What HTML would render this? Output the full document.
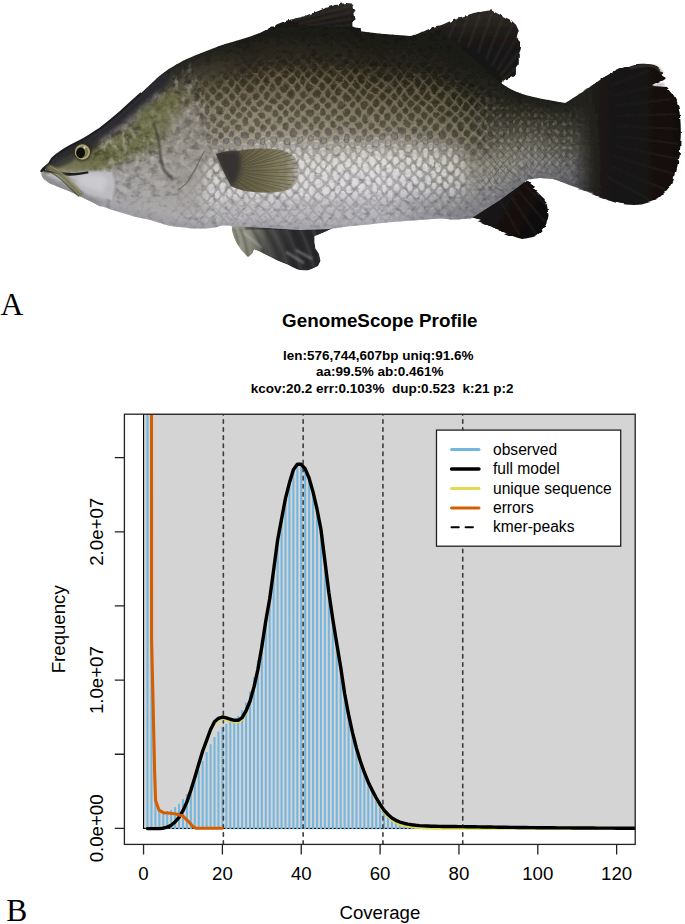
<!DOCTYPE html>
<html><head><meta charset="utf-8"><title>Figure</title>
<style>
html,body{margin:0;padding:0;background:#fff;}
body{width:685px;height:924px;overflow:hidden;position:relative;}
svg{position:absolute;left:0;top:0;}
text{font-family:"Liberation Sans", sans-serif;fill:#000;}
.serif{font-family:"Liberation Serif", serif;}
</style></head>
<body>
<svg width="685" height="924" viewBox="0 0 685 924">
<defs><clipPath id="plotclip"><rect x="124.4" y="414.2" width="510.80" height="430.20"/></clipPath></defs>
<filter id="soft" x="-2%" y="-2%" width="104%" height="104%"><feGaussianBlur stdDeviation="0.35"/></filter>
<g id="fish" filter="url(#soft)">
<defs>
<linearGradient id="g0" x1="0" y1="168.9" x2="0" y2="174.9" gradientUnits="userSpaceOnUse"><stop offset="0.00" stop-color="#2a2a2a"/><stop offset="0.08" stop-color="#353531"/><stop offset="0.17" stop-color="#46463b"/><stop offset="0.25" stop-color="#5d5b48"/><stop offset="0.33" stop-color="#717057"/><stop offset="0.42" stop-color="#838269"/><stop offset="0.50" stop-color="#a1a190"/><stop offset="0.58" stop-color="#babab4"/><stop offset="0.67" stop-color="#bfbfbe"/><stop offset="0.75" stop-color="#c4c4c8"/><stop offset="0.83" stop-color="#bfbfc3"/><stop offset="0.92" stop-color="#b9b9bd"/><stop offset="1.00" stop-color="#b4b4b8"/></linearGradient>
<linearGradient id="g1" x1="0" y1="165.3" x2="0" y2="181.3" gradientUnits="userSpaceOnUse"><stop offset="0.00" stop-color="#2a2a2a"/><stop offset="0.08" stop-color="#363632"/><stop offset="0.17" stop-color="#48473c"/><stop offset="0.25" stop-color="#5d5c48"/><stop offset="0.33" stop-color="#717057"/><stop offset="0.42" stop-color="#838268"/><stop offset="0.50" stop-color="#a0a08f"/><stop offset="0.58" stop-color="#b9b9b3"/><stop offset="0.67" stop-color="#bfbfbe"/><stop offset="0.75" stop-color="#c3c3c7"/><stop offset="0.83" stop-color="#bebec2"/><stop offset="0.92" stop-color="#b9b9bd"/><stop offset="1.00" stop-color="#b4b4b8"/></linearGradient>
<linearGradient id="g2" x1="0" y1="159.2" x2="0" y2="184.7" gradientUnits="userSpaceOnUse"><stop offset="0.00" stop-color="#292929"/><stop offset="0.08" stop-color="#393835"/><stop offset="0.17" stop-color="#4b4a3e"/><stop offset="0.25" stop-color="#5f5e48"/><stop offset="0.33" stop-color="#717056"/><stop offset="0.42" stop-color="#818167"/><stop offset="0.50" stop-color="#9d9d8c"/><stop offset="0.58" stop-color="#b5b5af"/><stop offset="0.67" stop-color="#bebebe"/><stop offset="0.75" stop-color="#c2c2c6"/><stop offset="0.83" stop-color="#bdbdc1"/><stop offset="0.92" stop-color="#b8b8bc"/><stop offset="1.00" stop-color="#b2b2b6"/></linearGradient>
<linearGradient id="g3" x1="0" y1="153.4" x2="0" y2="187.1" gradientUnits="userSpaceOnUse"><stop offset="0.00" stop-color="#292929"/><stop offset="0.08" stop-color="#3b3b38"/><stop offset="0.17" stop-color="#4e4e40"/><stop offset="0.25" stop-color="#616049"/><stop offset="0.33" stop-color="#717055"/><stop offset="0.42" stop-color="#808065"/><stop offset="0.50" stop-color="#9a9a88"/><stop offset="0.58" stop-color="#b2b2ab"/><stop offset="0.67" stop-color="#bdbdbd"/><stop offset="0.75" stop-color="#c0c0c4"/><stop offset="0.83" stop-color="#bcbcc0"/><stop offset="0.92" stop-color="#b7b7bb"/><stop offset="1.00" stop-color="#b1b1b5"/></linearGradient>
<linearGradient id="g4" x1="0" y1="149.7" x2="0" y2="189.5" gradientUnits="userSpaceOnUse"><stop offset="0.00" stop-color="#292929"/><stop offset="0.08" stop-color="#3e3d3c"/><stop offset="0.17" stop-color="#525143"/><stop offset="0.25" stop-color="#626249"/><stop offset="0.33" stop-color="#717055"/><stop offset="0.42" stop-color="#7f7f64"/><stop offset="0.50" stop-color="#979785"/><stop offset="0.58" stop-color="#afafa8"/><stop offset="0.67" stop-color="#bcbcbd"/><stop offset="0.75" stop-color="#bfbfc3"/><stop offset="0.83" stop-color="#bababe"/><stop offset="0.92" stop-color="#b6b6ba"/><stop offset="1.00" stop-color="#b0b0b4"/></linearGradient>
<linearGradient id="g5" x1="0" y1="146.2" x2="0" y2="192.1" gradientUnits="userSpaceOnUse"><stop offset="0.00" stop-color="#282828"/><stop offset="0.08" stop-color="#41403f"/><stop offset="0.17" stop-color="#555445"/><stop offset="0.25" stop-color="#646349"/><stop offset="0.33" stop-color="#717154"/><stop offset="0.42" stop-color="#7e7e62"/><stop offset="0.50" stop-color="#949482"/><stop offset="0.58" stop-color="#ababa4"/><stop offset="0.67" stop-color="#bcbcbd"/><stop offset="0.75" stop-color="#bdbdc1"/><stop offset="0.83" stop-color="#b9b9bd"/><stop offset="0.92" stop-color="#b5b5b9"/><stop offset="1.00" stop-color="#aeaeb2"/></linearGradient>
<linearGradient id="g6" x1="0" y1="142.8" x2="0" y2="194.9" gradientUnits="userSpaceOnUse"><stop offset="0.00" stop-color="#282828"/><stop offset="0.08" stop-color="#444242"/><stop offset="0.17" stop-color="#585747"/><stop offset="0.25" stop-color="#666549"/><stop offset="0.33" stop-color="#727153"/><stop offset="0.42" stop-color="#7d7d61"/><stop offset="0.50" stop-color="#91917f"/><stop offset="0.58" stop-color="#a8a8a0"/><stop offset="0.67" stop-color="#bbbbbd"/><stop offset="0.75" stop-color="#bbbbbf"/><stop offset="0.83" stop-color="#b8b8bc"/><stop offset="0.92" stop-color="#b4b4b8"/><stop offset="1.00" stop-color="#adadb1"/></linearGradient>
<linearGradient id="g7" x1="0" y1="139.2" x2="0" y2="197.7" gradientUnits="userSpaceOnUse"><stop offset="0.00" stop-color="#272727"/><stop offset="0.08" stop-color="#464445"/><stop offset="0.17" stop-color="#5c5a49"/><stop offset="0.25" stop-color="#686749"/><stop offset="0.33" stop-color="#727152"/><stop offset="0.42" stop-color="#7c7c5f"/><stop offset="0.50" stop-color="#8e8e7b"/><stop offset="0.58" stop-color="#a4a49d"/><stop offset="0.67" stop-color="#bababc"/><stop offset="0.75" stop-color="#bababe"/><stop offset="0.83" stop-color="#b6b6ba"/><stop offset="0.92" stop-color="#b3b3b7"/><stop offset="1.00" stop-color="#acacb0"/></linearGradient>
<linearGradient id="g8" x1="0" y1="135.4" x2="0" y2="200.7" gradientUnits="userSpaceOnUse"><stop offset="0.00" stop-color="#272727"/><stop offset="0.08" stop-color="#494748"/><stop offset="0.17" stop-color="#5f5e4b"/><stop offset="0.25" stop-color="#696949"/><stop offset="0.33" stop-color="#727152"/><stop offset="0.42" stop-color="#7b7b5e"/><stop offset="0.50" stop-color="#8b8b78"/><stop offset="0.58" stop-color="#a1a199"/><stop offset="0.67" stop-color="#b9b9bc"/><stop offset="0.75" stop-color="#b8b8bc"/><stop offset="0.83" stop-color="#b5b5b9"/><stop offset="0.92" stop-color="#b2b2b6"/><stop offset="1.00" stop-color="#aaaaae"/></linearGradient>
<linearGradient id="g9" x1="0" y1="131.7" x2="0" y2="203.7" gradientUnits="userSpaceOnUse"><stop offset="0.00" stop-color="#262626"/><stop offset="0.08" stop-color="#4c494b"/><stop offset="0.17" stop-color="#62614e"/><stop offset="0.25" stop-color="#6b6b49"/><stop offset="0.33" stop-color="#727251"/><stop offset="0.42" stop-color="#7a7a5c"/><stop offset="0.50" stop-color="#888875"/><stop offset="0.58" stop-color="#9e9e95"/><stop offset="0.67" stop-color="#b8b8bc"/><stop offset="0.75" stop-color="#b7b7bb"/><stop offset="0.83" stop-color="#b4b4b8"/><stop offset="0.92" stop-color="#b1b1b5"/><stop offset="1.00" stop-color="#a9a9ad"/></linearGradient>
<linearGradient id="g10" x1="0" y1="127.7" x2="0" y2="206.5" gradientUnits="userSpaceOnUse"><stop offset="0.00" stop-color="#262626"/><stop offset="0.08" stop-color="#4e4b4e"/><stop offset="0.17" stop-color="#65644f"/><stop offset="0.25" stop-color="#6d6d4a"/><stop offset="0.33" stop-color="#727251"/><stop offset="0.42" stop-color="#79795b"/><stop offset="0.50" stop-color="#868672"/><stop offset="0.58" stop-color="#9b9b92"/><stop offset="0.67" stop-color="#b7b7bb"/><stop offset="0.75" stop-color="#b5b5b9"/><stop offset="0.83" stop-color="#b3b3b7"/><stop offset="0.92" stop-color="#b0b0b4"/><stop offset="1.00" stop-color="#a8a8ac"/></linearGradient>
<linearGradient id="g11" x1="0" y1="122.8" x2="0" y2="208.3" gradientUnits="userSpaceOnUse"><stop offset="0.00" stop-color="#262625"/><stop offset="0.08" stop-color="#4d4a4c"/><stop offset="0.17" stop-color="#66644f"/><stop offset="0.25" stop-color="#6e6e4c"/><stop offset="0.33" stop-color="#747455"/><stop offset="0.42" stop-color="#7b7a5f"/><stop offset="0.50" stop-color="#878774"/><stop offset="0.58" stop-color="#9b9a92"/><stop offset="0.67" stop-color="#b6b5b9"/><stop offset="0.75" stop-color="#b4b4b7"/><stop offset="0.83" stop-color="#b2b2b6"/><stop offset="0.92" stop-color="#b1b1b5"/><stop offset="1.00" stop-color="#a8a8ac"/></linearGradient>
<linearGradient id="g12" x1="0" y1="117.9" x2="0" y2="210.2" gradientUnits="userSpaceOnUse"><stop offset="0.00" stop-color="#262625"/><stop offset="0.08" stop-color="#4c4949"/><stop offset="0.17" stop-color="#66644f"/><stop offset="0.25" stop-color="#6f6f4e"/><stop offset="0.33" stop-color="#767558"/><stop offset="0.42" stop-color="#7d7c62"/><stop offset="0.50" stop-color="#898877"/><stop offset="0.58" stop-color="#9b9a92"/><stop offset="0.67" stop-color="#b4b3b6"/><stop offset="0.75" stop-color="#b3b2b5"/><stop offset="0.83" stop-color="#b2b2b5"/><stop offset="0.92" stop-color="#b1b1b5"/><stop offset="1.00" stop-color="#a8a8ac"/></linearGradient>
<linearGradient id="g13" x1="0" y1="113.0" x2="0" y2="212.0" gradientUnits="userSpaceOnUse"><stop offset="0.00" stop-color="#252524"/><stop offset="0.08" stop-color="#4b4847"/><stop offset="0.17" stop-color="#66644f"/><stop offset="0.25" stop-color="#716f50"/><stop offset="0.33" stop-color="#78775c"/><stop offset="0.42" stop-color="#7f7e66"/><stop offset="0.50" stop-color="#8a8979"/><stop offset="0.58" stop-color="#9b9a92"/><stop offset="0.67" stop-color="#b2b1b3"/><stop offset="0.75" stop-color="#b2b1b3"/><stop offset="0.83" stop-color="#b2b1b5"/><stop offset="0.92" stop-color="#b2b2b6"/><stop offset="1.00" stop-color="#a8a8ac"/></linearGradient>
<linearGradient id="g14" x1="0" y1="107.7" x2="0" y2="213.7" gradientUnits="userSpaceOnUse"><stop offset="0.00" stop-color="#252524"/><stop offset="0.08" stop-color="#4a4745"/><stop offset="0.17" stop-color="#67644f"/><stop offset="0.25" stop-color="#727052"/><stop offset="0.33" stop-color="#7a7860"/><stop offset="0.42" stop-color="#817f6a"/><stop offset="0.50" stop-color="#8b8a7b"/><stop offset="0.58" stop-color="#9b9a92"/><stop offset="0.67" stop-color="#b0afb0"/><stop offset="0.75" stop-color="#b1b0b2"/><stop offset="0.83" stop-color="#b2b1b4"/><stop offset="0.92" stop-color="#b3b2b6"/><stop offset="1.00" stop-color="#a8a8ac"/></linearGradient>
<linearGradient id="g15" x1="0" y1="102.3" x2="0" y2="215.2" gradientUnits="userSpaceOnUse"><stop offset="0.00" stop-color="#252523"/><stop offset="0.08" stop-color="#494643"/><stop offset="0.17" stop-color="#67654e"/><stop offset="0.25" stop-color="#737154"/><stop offset="0.33" stop-color="#7b7a63"/><stop offset="0.42" stop-color="#82816d"/><stop offset="0.50" stop-color="#8c8b7d"/><stop offset="0.58" stop-color="#9b9992"/><stop offset="0.67" stop-color="#aeadad"/><stop offset="0.75" stop-color="#b0afb0"/><stop offset="0.83" stop-color="#b1b1b3"/><stop offset="0.92" stop-color="#b3b3b7"/><stop offset="1.00" stop-color="#a8a8ac"/></linearGradient>
<linearGradient id="g16" x1="0" y1="96.9" x2="0" y2="216.6" gradientUnits="userSpaceOnUse"><stop offset="0.00" stop-color="#252523"/><stop offset="0.08" stop-color="#484541"/><stop offset="0.17" stop-color="#68654e"/><stop offset="0.25" stop-color="#747256"/><stop offset="0.33" stop-color="#7d7b67"/><stop offset="0.42" stop-color="#848271"/><stop offset="0.50" stop-color="#8e8c7f"/><stop offset="0.58" stop-color="#9b9992"/><stop offset="0.67" stop-color="#acabab"/><stop offset="0.75" stop-color="#aeadae"/><stop offset="0.83" stop-color="#b1b0b2"/><stop offset="0.92" stop-color="#b4b4b7"/><stop offset="1.00" stop-color="#a8a8ac"/></linearGradient>
<linearGradient id="g17" x1="0" y1="91.5" x2="0" y2="218.1" gradientUnits="userSpaceOnUse"><stop offset="0.00" stop-color="#252522"/><stop offset="0.08" stop-color="#47443f"/><stop offset="0.17" stop-color="#68654e"/><stop offset="0.25" stop-color="#767358"/><stop offset="0.33" stop-color="#7f7d6a"/><stop offset="0.42" stop-color="#868474"/><stop offset="0.50" stop-color="#8f8d81"/><stop offset="0.58" stop-color="#9b9992"/><stop offset="0.67" stop-color="#aaa9a8"/><stop offset="0.75" stop-color="#adacac"/><stop offset="0.83" stop-color="#b1b0b2"/><stop offset="0.92" stop-color="#b4b4b8"/><stop offset="1.00" stop-color="#a8a8ac"/></linearGradient>
<linearGradient id="g18" x1="0" y1="86.1" x2="0" y2="219.7" gradientUnits="userSpaceOnUse"><stop offset="0.00" stop-color="#252522"/><stop offset="0.08" stop-color="#46433d"/><stop offset="0.17" stop-color="#68654e"/><stop offset="0.25" stop-color="#77745a"/><stop offset="0.33" stop-color="#817e6e"/><stop offset="0.42" stop-color="#888578"/><stop offset="0.50" stop-color="#908d83"/><stop offset="0.58" stop-color="#9b9992"/><stop offset="0.67" stop-color="#a8a6a5"/><stop offset="0.75" stop-color="#acabaa"/><stop offset="0.83" stop-color="#b0b0b1"/><stop offset="0.92" stop-color="#b5b5b8"/><stop offset="1.00" stop-color="#a8a8ac"/></linearGradient>
<linearGradient id="g19" x1="0" y1="80.6" x2="0" y2="221.5" gradientUnits="userSpaceOnUse"><stop offset="0.00" stop-color="#242421"/><stop offset="0.08" stop-color="#45423b"/><stop offset="0.17" stop-color="#69654e"/><stop offset="0.25" stop-color="#78755c"/><stop offset="0.33" stop-color="#838072"/><stop offset="0.42" stop-color="#8a877c"/><stop offset="0.50" stop-color="#918e85"/><stop offset="0.58" stop-color="#9b9892"/><stop offset="0.67" stop-color="#a6a4a2"/><stop offset="0.75" stop-color="#aba9a8"/><stop offset="0.83" stop-color="#b0afb0"/><stop offset="0.92" stop-color="#b5b5b9"/><stop offset="1.00" stop-color="#a8a8ac"/></linearGradient>
<linearGradient id="g20" x1="0" y1="75.2" x2="0" y2="223.4" gradientUnits="userSpaceOnUse"><stop offset="0.00" stop-color="#242421"/><stop offset="0.08" stop-color="#444139"/><stop offset="0.17" stop-color="#69654e"/><stop offset="0.25" stop-color="#79765e"/><stop offset="0.33" stop-color="#858175"/><stop offset="0.42" stop-color="#8c887f"/><stop offset="0.50" stop-color="#938f87"/><stop offset="0.58" stop-color="#9b9893"/><stop offset="0.67" stop-color="#a5a29f"/><stop offset="0.75" stop-color="#aaa8a7"/><stop offset="0.83" stop-color="#b0afb0"/><stop offset="0.92" stop-color="#b6b6b9"/><stop offset="1.00" stop-color="#a8a8ac"/></linearGradient>
<linearGradient id="g21" x1="0" y1="70.5" x2="0" y2="225.2" gradientUnits="userSpaceOnUse"><stop offset="0.00" stop-color="#242420"/><stop offset="0.08" stop-color="#434036"/><stop offset="0.17" stop-color="#69654d"/><stop offset="0.25" stop-color="#7b7760"/><stop offset="0.33" stop-color="#878379"/><stop offset="0.42" stop-color="#8e8a83"/><stop offset="0.50" stop-color="#94908a"/><stop offset="0.58" stop-color="#9b9893"/><stop offset="0.67" stop-color="#a3a09d"/><stop offset="0.75" stop-color="#a9a7a5"/><stop offset="0.83" stop-color="#b0afaf"/><stop offset="0.92" stop-color="#b7b6ba"/><stop offset="1.00" stop-color="#a8a8ac"/></linearGradient>
<linearGradient id="g22" x1="0" y1="67.2" x2="0" y2="226.4" gradientUnits="userSpaceOnUse"><stop offset="0.00" stop-color="#242420"/><stop offset="0.08" stop-color="#413e34"/><stop offset="0.17" stop-color="#68644c"/><stop offset="0.25" stop-color="#7a7660"/><stop offset="0.33" stop-color="#87837a"/><stop offset="0.42" stop-color="#8f8a84"/><stop offset="0.50" stop-color="#95918b"/><stop offset="0.58" stop-color="#9c9893"/><stop offset="0.67" stop-color="#a2a09c"/><stop offset="0.75" stop-color="#a9a7a5"/><stop offset="0.83" stop-color="#b0afaf"/><stop offset="0.92" stop-color="#b7b7ba"/><stop offset="1.00" stop-color="#a8a8ac"/></linearGradient>
<linearGradient id="g23" x1="0" y1="63.9" x2="0" y2="227.0" gradientUnits="userSpaceOnUse"><stop offset="0.00" stop-color="#23231f"/><stop offset="0.08" stop-color="#3f3c32"/><stop offset="0.17" stop-color="#646049"/><stop offset="0.25" stop-color="#77725d"/><stop offset="0.33" stop-color="#858077"/><stop offset="0.42" stop-color="#8f8a83"/><stop offset="0.50" stop-color="#96918a"/><stop offset="0.58" stop-color="#9d9994"/><stop offset="0.67" stop-color="#a4a19d"/><stop offset="0.75" stop-color="#aaa8a6"/><stop offset="0.83" stop-color="#b1b0b0"/><stop offset="0.92" stop-color="#b7b7ba"/><stop offset="1.00" stop-color="#a8a8ac"/></linearGradient>
<linearGradient id="g24" x1="0" y1="60.6" x2="0" y2="227.6" gradientUnits="userSpaceOnUse"><stop offset="0.00" stop-color="#22221e"/><stop offset="0.08" stop-color="#3d3a31"/><stop offset="0.17" stop-color="#605b46"/><stop offset="0.25" stop-color="#736f5a"/><stop offset="0.33" stop-color="#837e74"/><stop offset="0.42" stop-color="#8e8a82"/><stop offset="0.50" stop-color="#96928a"/><stop offset="0.58" stop-color="#9e9a94"/><stop offset="0.67" stop-color="#a5a29e"/><stop offset="0.75" stop-color="#aba9a7"/><stop offset="0.83" stop-color="#b2b0b1"/><stop offset="0.92" stop-color="#b8b7bb"/><stop offset="1.00" stop-color="#a8a8ac"/></linearGradient>
<linearGradient id="g25" x1="0" y1="57.3" x2="0" y2="228.2" gradientUnits="userSpaceOnUse"><stop offset="0.00" stop-color="#22221e"/><stop offset="0.08" stop-color="#3a382f"/><stop offset="0.17" stop-color="#5c5743"/><stop offset="0.25" stop-color="#706b57"/><stop offset="0.33" stop-color="#827c72"/><stop offset="0.42" stop-color="#8e8981"/><stop offset="0.50" stop-color="#97928a"/><stop offset="0.58" stop-color="#9f9b95"/><stop offset="0.67" stop-color="#a6a39f"/><stop offset="0.75" stop-color="#acaaa8"/><stop offset="0.83" stop-color="#b3b1b2"/><stop offset="0.92" stop-color="#b8b7bb"/><stop offset="1.00" stop-color="#a9a8ad"/></linearGradient>
<linearGradient id="g26" x1="0" y1="54.8" x2="0" y2="228.4" gradientUnits="userSpaceOnUse"><stop offset="0.00" stop-color="#21211d"/><stop offset="0.08" stop-color="#38362d"/><stop offset="0.17" stop-color="#585340"/><stop offset="0.25" stop-color="#6d6855"/><stop offset="0.33" stop-color="#807a6f"/><stop offset="0.42" stop-color="#8e897f"/><stop offset="0.50" stop-color="#97938a"/><stop offset="0.58" stop-color="#a09c96"/><stop offset="0.67" stop-color="#a7a5a0"/><stop offset="0.75" stop-color="#aeaca9"/><stop offset="0.83" stop-color="#b4b2b3"/><stop offset="0.92" stop-color="#b8b7bb"/><stop offset="1.00" stop-color="#a9a8ad"/></linearGradient>
<linearGradient id="g27" x1="0" y1="52.4" x2="0" y2="228.4" gradientUnits="userSpaceOnUse"><stop offset="0.00" stop-color="#21211c"/><stop offset="0.08" stop-color="#36342b"/><stop offset="0.17" stop-color="#544f3d"/><stop offset="0.25" stop-color="#6a6452"/><stop offset="0.33" stop-color="#7e786c"/><stop offset="0.42" stop-color="#8e887e"/><stop offset="0.50" stop-color="#98938a"/><stop offset="0.58" stop-color="#a19e96"/><stop offset="0.67" stop-color="#a9a6a1"/><stop offset="0.75" stop-color="#afadab"/><stop offset="0.83" stop-color="#b4b3b4"/><stop offset="0.92" stop-color="#b8b7bb"/><stop offset="1.00" stop-color="#a9a8ad"/></linearGradient>
<linearGradient id="g28" x1="0" y1="49.9" x2="0" y2="228.0" gradientUnits="userSpaceOnUse"><stop offset="0.00" stop-color="#20201c"/><stop offset="0.08" stop-color="#343129"/><stop offset="0.17" stop-color="#504b3a"/><stop offset="0.25" stop-color="#67614f"/><stop offset="0.33" stop-color="#7d766a"/><stop offset="0.42" stop-color="#8e887d"/><stop offset="0.50" stop-color="#99948a"/><stop offset="0.58" stop-color="#a29f97"/><stop offset="0.67" stop-color="#aaa7a3"/><stop offset="0.75" stop-color="#b0aeac"/><stop offset="0.83" stop-color="#b5b4b5"/><stop offset="0.92" stop-color="#b9b8bc"/><stop offset="1.00" stop-color="#a9a8ad"/></linearGradient>
<linearGradient id="g29" x1="0" y1="47.5" x2="0" y2="227.4" gradientUnits="userSpaceOnUse"><stop offset="0.00" stop-color="#20201b"/><stop offset="0.08" stop-color="#322f27"/><stop offset="0.17" stop-color="#4c4737"/><stop offset="0.25" stop-color="#645d4c"/><stop offset="0.33" stop-color="#7b7467"/><stop offset="0.42" stop-color="#8e877c"/><stop offset="0.50" stop-color="#99948a"/><stop offset="0.58" stop-color="#a3a098"/><stop offset="0.67" stop-color="#aba9a4"/><stop offset="0.75" stop-color="#b1afad"/><stop offset="0.83" stop-color="#b6b5b5"/><stop offset="0.92" stop-color="#b9b8bc"/><stop offset="1.00" stop-color="#a9a8ad"/></linearGradient>
<linearGradient id="g30" x1="0" y1="45.4" x2="0" y2="226.8" gradientUnits="userSpaceOnUse"><stop offset="0.00" stop-color="#1f1f1a"/><stop offset="0.08" stop-color="#302d25"/><stop offset="0.17" stop-color="#484334"/><stop offset="0.25" stop-color="#605a49"/><stop offset="0.33" stop-color="#797264"/><stop offset="0.42" stop-color="#8e877b"/><stop offset="0.50" stop-color="#9a958a"/><stop offset="0.58" stop-color="#a4a198"/><stop offset="0.67" stop-color="#acaaa5"/><stop offset="0.75" stop-color="#b2b0ae"/><stop offset="0.83" stop-color="#b7b5b6"/><stop offset="0.92" stop-color="#b9b8bc"/><stop offset="1.00" stop-color="#a9a8ad"/></linearGradient>
<linearGradient id="g31" x1="0" y1="43.6" x2="0" y2="226.2" gradientUnits="userSpaceOnUse"><stop offset="0.00" stop-color="#1e1e1a"/><stop offset="0.08" stop-color="#2d2b23"/><stop offset="0.17" stop-color="#443f32"/><stop offset="0.25" stop-color="#5d5646"/><stop offset="0.33" stop-color="#787062"/><stop offset="0.42" stop-color="#8d8779"/><stop offset="0.50" stop-color="#9a958a"/><stop offset="0.58" stop-color="#a5a299"/><stop offset="0.67" stop-color="#aeaba6"/><stop offset="0.75" stop-color="#b4b1af"/><stop offset="0.83" stop-color="#b8b6b7"/><stop offset="0.92" stop-color="#bab8bc"/><stop offset="1.00" stop-color="#a9a8ad"/></linearGradient>
<linearGradient id="g32" x1="0" y1="41.7" x2="0" y2="225.9" gradientUnits="userSpaceOnUse"><stop offset="0.00" stop-color="#1e1e19"/><stop offset="0.08" stop-color="#2b2921"/><stop offset="0.17" stop-color="#403b2f"/><stop offset="0.25" stop-color="#5a5344"/><stop offset="0.33" stop-color="#766e5f"/><stop offset="0.42" stop-color="#8d8678"/><stop offset="0.50" stop-color="#9b968a"/><stop offset="0.58" stop-color="#a6a39a"/><stop offset="0.67" stop-color="#afaca7"/><stop offset="0.75" stop-color="#b5b3b1"/><stop offset="0.83" stop-color="#b9b7b8"/><stop offset="0.92" stop-color="#bab8bc"/><stop offset="1.00" stop-color="#aaa8ae"/></linearGradient>
<linearGradient id="g33" x1="0" y1="39.9" x2="0" y2="226.2" gradientUnits="userSpaceOnUse"><stop offset="0.00" stop-color="#1d1d18"/><stop offset="0.08" stop-color="#29271f"/><stop offset="0.17" stop-color="#3c372c"/><stop offset="0.25" stop-color="#574f41"/><stop offset="0.33" stop-color="#746c5d"/><stop offset="0.42" stop-color="#8d8677"/><stop offset="0.50" stop-color="#9c968a"/><stop offset="0.58" stop-color="#a8a49b"/><stop offset="0.67" stop-color="#b0aea8"/><stop offset="0.75" stop-color="#b6b4b2"/><stop offset="0.83" stop-color="#bab8b9"/><stop offset="0.92" stop-color="#bab8bd"/><stop offset="1.00" stop-color="#aaa8ae"/></linearGradient>
<linearGradient id="g34" x1="0" y1="38.0" x2="0" y2="226.4" gradientUnits="userSpaceOnUse"><stop offset="0.00" stop-color="#1c1c18"/><stop offset="0.08" stop-color="#27241e"/><stop offset="0.17" stop-color="#383329"/><stop offset="0.25" stop-color="#544c3e"/><stop offset="0.33" stop-color="#73695a"/><stop offset="0.42" stop-color="#8d8576"/><stop offset="0.50" stop-color="#9c978a"/><stop offset="0.58" stop-color="#a9a59b"/><stop offset="0.67" stop-color="#b1afa9"/><stop offset="0.75" stop-color="#b7b5b3"/><stop offset="0.83" stop-color="#bbb9ba"/><stop offset="0.92" stop-color="#bab9bd"/><stop offset="1.00" stop-color="#aaa8ae"/></linearGradient>
<linearGradient id="g35" x1="0" y1="35.7" x2="0" y2="226.7" gradientUnits="userSpaceOnUse"><stop offset="0.00" stop-color="#1c1c17"/><stop offset="0.08" stop-color="#25231c"/><stop offset="0.17" stop-color="#353026"/><stop offset="0.25" stop-color="#51493b"/><stop offset="0.33" stop-color="#716757"/><stop offset="0.42" stop-color="#8d8575"/><stop offset="0.50" stop-color="#9d978a"/><stop offset="0.58" stop-color="#aaa69c"/><stop offset="0.67" stop-color="#b3b0aa"/><stop offset="0.75" stop-color="#b8b6b4"/><stop offset="0.83" stop-color="#bbb9bb"/><stop offset="0.92" stop-color="#bbb9bd"/><stop offset="1.00" stop-color="#aaa8ae"/></linearGradient>
<linearGradient id="g36" x1="0" y1="33.4" x2="0" y2="227.0" gradientUnits="userSpaceOnUse"><stop offset="0.00" stop-color="#1c1c17"/><stop offset="0.08" stop-color="#25221c"/><stop offset="0.17" stop-color="#342f26"/><stop offset="0.25" stop-color="#50483b"/><stop offset="0.33" stop-color="#706656"/><stop offset="0.42" stop-color="#8b8373"/><stop offset="0.50" stop-color="#9c9689"/><stop offset="0.58" stop-color="#aaa69c"/><stop offset="0.67" stop-color="#b3b1ab"/><stop offset="0.75" stop-color="#b8b6b5"/><stop offset="0.83" stop-color="#bbb9bb"/><stop offset="0.92" stop-color="#bab8bd"/><stop offset="1.00" stop-color="#aba9af"/></linearGradient>
<linearGradient id="g37" x1="0" y1="31.1" x2="0" y2="227.2" gradientUnits="userSpaceOnUse"><stop offset="0.00" stop-color="#1c1c17"/><stop offset="0.08" stop-color="#24221c"/><stop offset="0.17" stop-color="#342f25"/><stop offset="0.25" stop-color="#4f473a"/><stop offset="0.33" stop-color="#6e6555"/><stop offset="0.42" stop-color="#8a8272"/><stop offset="0.50" stop-color="#9b9688"/><stop offset="0.58" stop-color="#aaa69c"/><stop offset="0.67" stop-color="#b4b1ac"/><stop offset="0.75" stop-color="#b9b7b5"/><stop offset="0.83" stop-color="#bbb9bb"/><stop offset="0.92" stop-color="#bab8bd"/><stop offset="1.00" stop-color="#abaaaf"/></linearGradient>
<linearGradient id="g38" x1="0" y1="29.1" x2="0" y2="227.5" gradientUnits="userSpaceOnUse"><stop offset="0.00" stop-color="#1c1c17"/><stop offset="0.08" stop-color="#24221b"/><stop offset="0.17" stop-color="#332e25"/><stop offset="0.25" stop-color="#4e4639"/><stop offset="0.33" stop-color="#6d6454"/><stop offset="0.42" stop-color="#898171"/><stop offset="0.50" stop-color="#9b9587"/><stop offset="0.58" stop-color="#aaa69c"/><stop offset="0.67" stop-color="#b4b2ac"/><stop offset="0.75" stop-color="#b9b7b6"/><stop offset="0.83" stop-color="#bbb9bb"/><stop offset="0.92" stop-color="#bab8bd"/><stop offset="1.00" stop-color="#acaab0"/></linearGradient>
<linearGradient id="g39" x1="0" y1="28.5" x2="0" y2="227.8" gradientUnits="userSpaceOnUse"><stop offset="0.00" stop-color="#1c1c17"/><stop offset="0.08" stop-color="#24211b"/><stop offset="0.17" stop-color="#332e24"/><stop offset="0.25" stop-color="#4d4538"/><stop offset="0.33" stop-color="#6c6353"/><stop offset="0.42" stop-color="#88806f"/><stop offset="0.50" stop-color="#9a9487"/><stop offset="0.58" stop-color="#aaa69c"/><stop offset="0.67" stop-color="#b5b3ad"/><stop offset="0.75" stop-color="#bab8b7"/><stop offset="0.83" stop-color="#bbb9bb"/><stop offset="0.92" stop-color="#bab8bd"/><stop offset="1.00" stop-color="#adabb1"/></linearGradient>
<linearGradient id="g40" x1="0" y1="27.9" x2="0" y2="228.0" gradientUnits="userSpaceOnUse"><stop offset="0.00" stop-color="#1c1c17"/><stop offset="0.08" stop-color="#24211b"/><stop offset="0.17" stop-color="#322d24"/><stop offset="0.25" stop-color="#4b4437"/><stop offset="0.33" stop-color="#6b6252"/><stop offset="0.42" stop-color="#877f6e"/><stop offset="0.50" stop-color="#999486"/><stop offset="0.58" stop-color="#aaa69c"/><stop offset="0.67" stop-color="#b6b3ae"/><stop offset="0.75" stop-color="#bab8b7"/><stop offset="0.83" stop-color="#bbb9bc"/><stop offset="0.92" stop-color="#bab8bd"/><stop offset="1.00" stop-color="#adacb1"/></linearGradient>
<linearGradient id="g41" x1="0" y1="27.3" x2="0" y2="228.1" gradientUnits="userSpaceOnUse"><stop offset="0.00" stop-color="#1b1b17"/><stop offset="0.08" stop-color="#23211b"/><stop offset="0.17" stop-color="#312d24"/><stop offset="0.25" stop-color="#4a4336"/><stop offset="0.33" stop-color="#696150"/><stop offset="0.42" stop-color="#857d6d"/><stop offset="0.50" stop-color="#999385"/><stop offset="0.58" stop-color="#aaa69c"/><stop offset="0.67" stop-color="#b6b4af"/><stop offset="0.75" stop-color="#bab8b8"/><stop offset="0.83" stop-color="#bbb9bc"/><stop offset="0.92" stop-color="#b9b8bd"/><stop offset="1.00" stop-color="#aeadb2"/></linearGradient>
<linearGradient id="g42" x1="0" y1="26.7" x2="0" y2="228.3" gradientUnits="userSpaceOnUse"><stop offset="0.00" stop-color="#1b1b17"/><stop offset="0.08" stop-color="#23211a"/><stop offset="0.17" stop-color="#312c23"/><stop offset="0.25" stop-color="#494235"/><stop offset="0.33" stop-color="#685f4f"/><stop offset="0.42" stop-color="#847c6c"/><stop offset="0.50" stop-color="#989284"/><stop offset="0.58" stop-color="#aaa69c"/><stop offset="0.67" stop-color="#b7b5af"/><stop offset="0.75" stop-color="#bbb9b9"/><stop offset="0.83" stop-color="#bbb9bc"/><stop offset="0.92" stop-color="#b9b7bd"/><stop offset="1.00" stop-color="#afadb3"/></linearGradient>
<linearGradient id="g43" x1="0" y1="26.1" x2="0" y2="228.4" gradientUnits="userSpaceOnUse"><stop offset="0.00" stop-color="#1b1b17"/><stop offset="0.08" stop-color="#23201a"/><stop offset="0.17" stop-color="#302c23"/><stop offset="0.25" stop-color="#484135"/><stop offset="0.33" stop-color="#675e4e"/><stop offset="0.42" stop-color="#837b6a"/><stop offset="0.50" stop-color="#979284"/><stop offset="0.58" stop-color="#aaa69c"/><stop offset="0.67" stop-color="#b8b5b0"/><stop offset="0.75" stop-color="#bbb9b9"/><stop offset="0.83" stop-color="#bbb9bc"/><stop offset="0.92" stop-color="#b9b7bd"/><stop offset="1.00" stop-color="#afaeb3"/></linearGradient>
<linearGradient id="g44" x1="0" y1="26.1" x2="0" y2="228.5" gradientUnits="userSpaceOnUse"><stop offset="0.00" stop-color="#1b1b17"/><stop offset="0.08" stop-color="#22201a"/><stop offset="0.17" stop-color="#302c22"/><stop offset="0.25" stop-color="#474034"/><stop offset="0.33" stop-color="#665d4d"/><stop offset="0.42" stop-color="#827a69"/><stop offset="0.50" stop-color="#979183"/><stop offset="0.58" stop-color="#aaa69c"/><stop offset="0.67" stop-color="#b8b6b1"/><stop offset="0.75" stop-color="#bbb9ba"/><stop offset="0.83" stop-color="#bbb9bc"/><stop offset="0.92" stop-color="#b9b7bd"/><stop offset="1.00" stop-color="#b0afb4"/></linearGradient>
<linearGradient id="g45" x1="0" y1="26.3" x2="0" y2="228.6" gradientUnits="userSpaceOnUse"><stop offset="0.00" stop-color="#1b1b17"/><stop offset="0.08" stop-color="#22201a"/><stop offset="0.17" stop-color="#2f2b22"/><stop offset="0.25" stop-color="#464033"/><stop offset="0.33" stop-color="#645c4c"/><stop offset="0.42" stop-color="#817968"/><stop offset="0.50" stop-color="#969082"/><stop offset="0.58" stop-color="#aaa69d"/><stop offset="0.67" stop-color="#b9b7b1"/><stop offset="0.75" stop-color="#bcbabb"/><stop offset="0.83" stop-color="#bbb9bd"/><stop offset="0.92" stop-color="#b9b7bd"/><stop offset="1.00" stop-color="#b1b0b5"/></linearGradient>
<linearGradient id="g46" x1="0" y1="26.4" x2="0" y2="228.7" gradientUnits="userSpaceOnUse"><stop offset="0.00" stop-color="#1b1b16"/><stop offset="0.08" stop-color="#221f1a"/><stop offset="0.17" stop-color="#2e2b21"/><stop offset="0.25" stop-color="#453f32"/><stop offset="0.33" stop-color="#635b4b"/><stop offset="0.42" stop-color="#7f7766"/><stop offset="0.50" stop-color="#958f82"/><stop offset="0.58" stop-color="#aaa69d"/><stop offset="0.67" stop-color="#b9b7b2"/><stop offset="0.75" stop-color="#bcbabb"/><stop offset="0.83" stop-color="#bbb9bd"/><stop offset="0.92" stop-color="#b8b7bc"/><stop offset="1.00" stop-color="#b1b0b5"/></linearGradient>
<linearGradient id="g47" x1="0" y1="26.6" x2="0" y2="228.9" gradientUnits="userSpaceOnUse"><stop offset="0.00" stop-color="#1b1b16"/><stop offset="0.08" stop-color="#211f19"/><stop offset="0.17" stop-color="#2e2a21"/><stop offset="0.25" stop-color="#443e31"/><stop offset="0.33" stop-color="#625a49"/><stop offset="0.42" stop-color="#7e7665"/><stop offset="0.50" stop-color="#958f81"/><stop offset="0.58" stop-color="#aaa69d"/><stop offset="0.67" stop-color="#bab8b3"/><stop offset="0.75" stop-color="#bcbabc"/><stop offset="0.83" stop-color="#bbb9bd"/><stop offset="0.92" stop-color="#b8b6bc"/><stop offset="1.00" stop-color="#b2b1b6"/></linearGradient>
<linearGradient id="g48" x1="0" y1="26.7" x2="0" y2="229.0" gradientUnits="userSpaceOnUse"><stop offset="0.00" stop-color="#1b1b16"/><stop offset="0.08" stop-color="#211f19"/><stop offset="0.17" stop-color="#2d2a21"/><stop offset="0.25" stop-color="#433d30"/><stop offset="0.33" stop-color="#615848"/><stop offset="0.42" stop-color="#7d7564"/><stop offset="0.50" stop-color="#948e80"/><stop offset="0.58" stop-color="#aaa69d"/><stop offset="0.67" stop-color="#bbb9b4"/><stop offset="0.75" stop-color="#bdbbbd"/><stop offset="0.83" stop-color="#bbb9bd"/><stop offset="0.92" stop-color="#b8b6bc"/><stop offset="1.00" stop-color="#b3b2b7"/></linearGradient>
<linearGradient id="g49" x1="0" y1="26.9" x2="0" y2="228.4" gradientUnits="userSpaceOnUse"><stop offset="0.00" stop-color="#1b1b16"/><stop offset="0.08" stop-color="#211f19"/><stop offset="0.17" stop-color="#2d2920"/><stop offset="0.25" stop-color="#423c2f"/><stop offset="0.33" stop-color="#5f5747"/><stop offset="0.42" stop-color="#7c7463"/><stop offset="0.50" stop-color="#938d7f"/><stop offset="0.58" stop-color="#aaa69d"/><stop offset="0.67" stop-color="#bbb9b4"/><stop offset="0.75" stop-color="#bdbbbd"/><stop offset="0.83" stop-color="#bbb9bd"/><stop offset="0.92" stop-color="#b8b6bc"/><stop offset="1.00" stop-color="#b3b2b7"/></linearGradient>
<linearGradient id="g50" x1="0" y1="27.2" x2="0" y2="227.6" gradientUnits="userSpaceOnUse"><stop offset="0.00" stop-color="#1b1b16"/><stop offset="0.08" stop-color="#201e19"/><stop offset="0.17" stop-color="#2c2920"/><stop offset="0.25" stop-color="#413b2f"/><stop offset="0.33" stop-color="#5e5646"/><stop offset="0.42" stop-color="#7b7361"/><stop offset="0.50" stop-color="#938d7f"/><stop offset="0.58" stop-color="#aaa69d"/><stop offset="0.67" stop-color="#bcbab5"/><stop offset="0.75" stop-color="#bebcbe"/><stop offset="0.83" stop-color="#bbb9bd"/><stop offset="0.92" stop-color="#b8b6bc"/><stop offset="1.00" stop-color="#b4b3b8"/></linearGradient>
<linearGradient id="g51" x1="0" y1="28.4" x2="0" y2="226.9" gradientUnits="userSpaceOnUse"><stop offset="0.00" stop-color="#1b1b16"/><stop offset="0.08" stop-color="#201e18"/><stop offset="0.17" stop-color="#2b281f"/><stop offset="0.25" stop-color="#403a2e"/><stop offset="0.33" stop-color="#5d5545"/><stop offset="0.42" stop-color="#797160"/><stop offset="0.50" stop-color="#928c7e"/><stop offset="0.58" stop-color="#aaa69d"/><stop offset="0.67" stop-color="#bdbab6"/><stop offset="0.75" stop-color="#bebcbe"/><stop offset="0.83" stop-color="#bbb9be"/><stop offset="0.92" stop-color="#b7b6bc"/><stop offset="1.00" stop-color="#b4b4b8"/></linearGradient>
<linearGradient id="g52" x1="0" y1="29.7" x2="0" y2="226.1" gradientUnits="userSpaceOnUse"><stop offset="0.00" stop-color="#1a1a16"/><stop offset="0.08" stop-color="#201e18"/><stop offset="0.17" stop-color="#2b281f"/><stop offset="0.25" stop-color="#3f392d"/><stop offset="0.33" stop-color="#5c5444"/><stop offset="0.42" stop-color="#78705f"/><stop offset="0.50" stop-color="#918b7d"/><stop offset="0.58" stop-color="#aaa69d"/><stop offset="0.67" stop-color="#bdbbb6"/><stop offset="0.75" stop-color="#bebcbf"/><stop offset="0.83" stop-color="#bbb9be"/><stop offset="0.92" stop-color="#b7b5bc"/><stop offset="1.00" stop-color="#b5b5b9"/></linearGradient>
<linearGradient id="g53" x1="0" y1="30.9" x2="0" y2="225.4" gradientUnits="userSpaceOnUse"><stop offset="0.00" stop-color="#1a1a16"/><stop offset="0.08" stop-color="#1f1d18"/><stop offset="0.17" stop-color="#2a271e"/><stop offset="0.25" stop-color="#3e382c"/><stop offset="0.33" stop-color="#5a5342"/><stop offset="0.42" stop-color="#776f5d"/><stop offset="0.50" stop-color="#918b7c"/><stop offset="0.58" stop-color="#aaa69d"/><stop offset="0.67" stop-color="#bebcb7"/><stop offset="0.75" stop-color="#bfbdc0"/><stop offset="0.83" stop-color="#bbb9be"/><stop offset="0.92" stop-color="#b7b5bc"/><stop offset="1.00" stop-color="#b6b5ba"/></linearGradient>
<linearGradient id="g54" x1="0" y1="31.8" x2="0" y2="224.8" gradientUnits="userSpaceOnUse"><stop offset="0.00" stop-color="#1a1a16"/><stop offset="0.08" stop-color="#1f1d18"/><stop offset="0.17" stop-color="#2a271e"/><stop offset="0.25" stop-color="#3c372b"/><stop offset="0.33" stop-color="#595241"/><stop offset="0.42" stop-color="#766e5c"/><stop offset="0.50" stop-color="#908a7c"/><stop offset="0.58" stop-color="#aaa69d"/><stop offset="0.67" stop-color="#bebcb8"/><stop offset="0.75" stop-color="#bfbdc0"/><stop offset="0.83" stop-color="#bbb9be"/><stop offset="0.92" stop-color="#b7b5bc"/><stop offset="1.00" stop-color="#b6b6ba"/></linearGradient>
<linearGradient id="g55" x1="0" y1="32.5" x2="0" y2="224.2" gradientUnits="userSpaceOnUse"><stop offset="0.00" stop-color="#1a1a16"/><stop offset="0.08" stop-color="#1f1d18"/><stop offset="0.17" stop-color="#29261d"/><stop offset="0.25" stop-color="#3b362a"/><stop offset="0.33" stop-color="#585040"/><stop offset="0.42" stop-color="#756d5b"/><stop offset="0.50" stop-color="#8f897b"/><stop offset="0.58" stop-color="#aaa69d"/><stop offset="0.67" stop-color="#bfbdb9"/><stop offset="0.75" stop-color="#bfbdc1"/><stop offset="0.83" stop-color="#bbb9be"/><stop offset="0.92" stop-color="#b7b5bc"/><stop offset="1.00" stop-color="#b7b7bb"/></linearGradient>
<linearGradient id="g56" x1="0" y1="33.2" x2="0" y2="223.6" gradientUnits="userSpaceOnUse"><stop offset="0.00" stop-color="#1a1a16"/><stop offset="0.08" stop-color="#1f1d17"/><stop offset="0.17" stop-color="#28261d"/><stop offset="0.25" stop-color="#3a3529"/><stop offset="0.33" stop-color="#574f3f"/><stop offset="0.42" stop-color="#736b5a"/><stop offset="0.50" stop-color="#8f897a"/><stop offset="0.58" stop-color="#aaa69d"/><stop offset="0.67" stop-color="#c0beb9"/><stop offset="0.75" stop-color="#c0bec2"/><stop offset="0.83" stop-color="#bab8bf"/><stop offset="0.92" stop-color="#b6b5bc"/><stop offset="1.00" stop-color="#b8b8bc"/></linearGradient>
<linearGradient id="g57" x1="0" y1="33.9" x2="0" y2="223.0" gradientUnits="userSpaceOnUse"><stop offset="0.00" stop-color="#1a1a16"/><stop offset="0.08" stop-color="#1e1c17"/><stop offset="0.17" stop-color="#28251d"/><stop offset="0.25" stop-color="#393529"/><stop offset="0.33" stop-color="#554e3e"/><stop offset="0.42" stop-color="#726a58"/><stop offset="0.50" stop-color="#8d8779"/><stop offset="0.58" stop-color="#a9a59c"/><stop offset="0.67" stop-color="#bfbdb8"/><stop offset="0.75" stop-color="#bfbdc0"/><stop offset="0.83" stop-color="#b9b7bd"/><stop offset="0.92" stop-color="#b5b3ba"/><stop offset="1.00" stop-color="#b6b6ba"/></linearGradient>
<linearGradient id="g58" x1="0" y1="34.3" x2="0" y2="222.4" gradientUnits="userSpaceOnUse"><stop offset="0.00" stop-color="#1a1a16"/><stop offset="0.08" stop-color="#1f1d18"/><stop offset="0.17" stop-color="#28251d"/><stop offset="0.25" stop-color="#393429"/><stop offset="0.33" stop-color="#544d3e"/><stop offset="0.42" stop-color="#706958"/><stop offset="0.50" stop-color="#8b8577"/><stop offset="0.58" stop-color="#a6a39a"/><stop offset="0.67" stop-color="#bcbab5"/><stop offset="0.75" stop-color="#bcbabd"/><stop offset="0.83" stop-color="#b6b5ba"/><stop offset="0.92" stop-color="#b2b0b7"/><stop offset="1.00" stop-color="#b2b2b6"/></linearGradient>
<linearGradient id="g59" x1="0" y1="34.8" x2="0" y2="221.9" gradientUnits="userSpaceOnUse"><stop offset="0.00" stop-color="#1a1a16"/><stop offset="0.08" stop-color="#1f1d18"/><stop offset="0.17" stop-color="#27251d"/><stop offset="0.25" stop-color="#383429"/><stop offset="0.33" stop-color="#534d3d"/><stop offset="0.42" stop-color="#6f6857"/><stop offset="0.50" stop-color="#898375"/><stop offset="0.58" stop-color="#a4a197"/><stop offset="0.67" stop-color="#b9b7b2"/><stop offset="0.75" stop-color="#b9b7ba"/><stop offset="0.83" stop-color="#b4b2b7"/><stop offset="0.92" stop-color="#afadb4"/><stop offset="1.00" stop-color="#aeaeb3"/></linearGradient>
<linearGradient id="g60" x1="0" y1="35.3" x2="0" y2="221.4" gradientUnits="userSpaceOnUse"><stop offset="0.00" stop-color="#1a1a16"/><stop offset="0.08" stop-color="#1f1d18"/><stop offset="0.17" stop-color="#27251d"/><stop offset="0.25" stop-color="#373428"/><stop offset="0.33" stop-color="#524c3d"/><stop offset="0.42" stop-color="#6d6756"/><stop offset="0.50" stop-color="#878273"/><stop offset="0.58" stop-color="#a29f95"/><stop offset="0.67" stop-color="#b6b4ae"/><stop offset="0.75" stop-color="#b7b5b6"/><stop offset="0.83" stop-color="#b1b0b5"/><stop offset="0.92" stop-color="#acaab1"/><stop offset="1.00" stop-color="#aaaaaf"/></linearGradient>
<linearGradient id="g61" x1="0" y1="35.8" x2="0" y2="221.0" gradientUnits="userSpaceOnUse"><stop offset="0.00" stop-color="#1b1b17"/><stop offset="0.08" stop-color="#1f1d18"/><stop offset="0.17" stop-color="#27251d"/><stop offset="0.25" stop-color="#373328"/><stop offset="0.33" stop-color="#504b3c"/><stop offset="0.42" stop-color="#6b6555"/><stop offset="0.50" stop-color="#858071"/><stop offset="0.58" stop-color="#a09c92"/><stop offset="0.67" stop-color="#b3b1ab"/><stop offset="0.75" stop-color="#b4b2b3"/><stop offset="0.83" stop-color="#afadb2"/><stop offset="0.92" stop-color="#a8a7ae"/><stop offset="1.00" stop-color="#a6a6ab"/></linearGradient>
<linearGradient id="g62" x1="0" y1="36.9" x2="0" y2="220.5" gradientUnits="userSpaceOnUse"><stop offset="0.00" stop-color="#1b1b17"/><stop offset="0.08" stop-color="#1f1e18"/><stop offset="0.17" stop-color="#27251d"/><stop offset="0.25" stop-color="#363328"/><stop offset="0.33" stop-color="#4f4a3c"/><stop offset="0.42" stop-color="#6a6455"/><stop offset="0.50" stop-color="#827e6f"/><stop offset="0.58" stop-color="#9e9a90"/><stop offset="0.67" stop-color="#b1aea8"/><stop offset="0.75" stop-color="#b1afb0"/><stop offset="0.83" stop-color="#acabaf"/><stop offset="0.92" stop-color="#a5a4ab"/><stop offset="1.00" stop-color="#a2a2a7"/></linearGradient>
<linearGradient id="g63" x1="0" y1="38.7" x2="0" y2="220.1" gradientUnits="userSpaceOnUse"><stop offset="0.00" stop-color="#1b1b17"/><stop offset="0.08" stop-color="#1f1e19"/><stop offset="0.17" stop-color="#26251d"/><stop offset="0.25" stop-color="#363228"/><stop offset="0.33" stop-color="#4e493b"/><stop offset="0.42" stop-color="#686354"/><stop offset="0.50" stop-color="#807c6d"/><stop offset="0.58" stop-color="#9b988d"/><stop offset="0.67" stop-color="#aeaca4"/><stop offset="0.75" stop-color="#aeadac"/><stop offset="0.83" stop-color="#a9a8ac"/><stop offset="0.92" stop-color="#a2a1a8"/><stop offset="1.00" stop-color="#9e9ea4"/></linearGradient>
<linearGradient id="g64" x1="0" y1="40.5" x2="0" y2="219.6" gradientUnits="userSpaceOnUse"><stop offset="0.00" stop-color="#1b1b17"/><stop offset="0.08" stop-color="#1f1e19"/><stop offset="0.17" stop-color="#26241d"/><stop offset="0.25" stop-color="#353228"/><stop offset="0.33" stop-color="#4d483b"/><stop offset="0.42" stop-color="#666253"/><stop offset="0.50" stop-color="#7e7a6b"/><stop offset="0.58" stop-color="#99968b"/><stop offset="0.67" stop-color="#aba9a1"/><stop offset="0.75" stop-color="#acaaa9"/><stop offset="0.83" stop-color="#a7a6a9"/><stop offset="0.92" stop-color="#9f9ea4"/><stop offset="1.00" stop-color="#9a9aa0"/></linearGradient>
<linearGradient id="g65" x1="0" y1="42.3" x2="0" y2="219.2" gradientUnits="userSpaceOnUse"><stop offset="0.00" stop-color="#1b1b17"/><stop offset="0.08" stop-color="#1f1e19"/><stop offset="0.17" stop-color="#26241d"/><stop offset="0.25" stop-color="#343227"/><stop offset="0.33" stop-color="#4b483a"/><stop offset="0.42" stop-color="#656152"/><stop offset="0.50" stop-color="#7c7869"/><stop offset="0.58" stop-color="#979388"/><stop offset="0.67" stop-color="#a8a69e"/><stop offset="0.75" stop-color="#a9a7a6"/><stop offset="0.83" stop-color="#a4a3a6"/><stop offset="0.92" stop-color="#9c9ba1"/><stop offset="1.00" stop-color="#96969c"/></linearGradient>
<linearGradient id="g66" x1="0" y1="44.1" x2="0" y2="218.7" gradientUnits="userSpaceOnUse"><stop offset="0.00" stop-color="#1b1b17"/><stop offset="0.08" stop-color="#201f19"/><stop offset="0.17" stop-color="#26241d"/><stop offset="0.25" stop-color="#343127"/><stop offset="0.33" stop-color="#4a473a"/><stop offset="0.42" stop-color="#635f51"/><stop offset="0.50" stop-color="#7a7667"/><stop offset="0.58" stop-color="#959186"/><stop offset="0.67" stop-color="#a5a39b"/><stop offset="0.75" stop-color="#a6a5a2"/><stop offset="0.83" stop-color="#a1a1a3"/><stop offset="0.92" stop-color="#99999e"/><stop offset="1.00" stop-color="#929299"/></linearGradient>
<linearGradient id="g67" x1="0" y1="46.5" x2="0" y2="218.5" gradientUnits="userSpaceOnUse"><stop offset="0.00" stop-color="#1b1b17"/><stop offset="0.08" stop-color="#201f1a"/><stop offset="0.17" stop-color="#25241d"/><stop offset="0.25" stop-color="#333127"/><stop offset="0.33" stop-color="#494639"/><stop offset="0.42" stop-color="#615e51"/><stop offset="0.50" stop-color="#787465"/><stop offset="0.58" stop-color="#938f83"/><stop offset="0.67" stop-color="#a3a097"/><stop offset="0.75" stop-color="#a4a29f"/><stop offset="0.83" stop-color="#9f9ea0"/><stop offset="0.92" stop-color="#96969b"/><stop offset="1.00" stop-color="#8e8e95"/></linearGradient>
<linearGradient id="g68" x1="0" y1="49.5" x2="0" y2="218.5" gradientUnits="userSpaceOnUse"><stop offset="0.00" stop-color="#1c1c18"/><stop offset="0.08" stop-color="#201f1a"/><stop offset="0.17" stop-color="#25241d"/><stop offset="0.25" stop-color="#323027"/><stop offset="0.33" stop-color="#484539"/><stop offset="0.42" stop-color="#605d50"/><stop offset="0.50" stop-color="#767363"/><stop offset="0.58" stop-color="#908d81"/><stop offset="0.67" stop-color="#a09d94"/><stop offset="0.75" stop-color="#a19f9c"/><stop offset="0.83" stop-color="#9c9b9d"/><stop offset="0.92" stop-color="#939398"/><stop offset="1.00" stop-color="#8a8a91"/></linearGradient>
<linearGradient id="g69" x1="0" y1="52.5" x2="0" y2="218.5" gradientUnits="userSpaceOnUse"><stop offset="0.00" stop-color="#1c1c18"/><stop offset="0.08" stop-color="#201f1a"/><stop offset="0.17" stop-color="#25241d"/><stop offset="0.25" stop-color="#323026"/><stop offset="0.33" stop-color="#464438"/><stop offset="0.42" stop-color="#5e5c4f"/><stop offset="0.50" stop-color="#737161"/><stop offset="0.58" stop-color="#8e8b7e"/><stop offset="0.67" stop-color="#9d9a91"/><stop offset="0.75" stop-color="#9e9d98"/><stop offset="0.83" stop-color="#99999b"/><stop offset="0.92" stop-color="#909095"/><stop offset="1.00" stop-color="#86868d"/></linearGradient>
<linearGradient id="g70" x1="0" y1="55.5" x2="0" y2="218.5" gradientUnits="userSpaceOnUse"><stop offset="0.00" stop-color="#1c1c18"/><stop offset="0.08" stop-color="#201f1a"/><stop offset="0.17" stop-color="#25241d"/><stop offset="0.25" stop-color="#313026"/><stop offset="0.33" stop-color="#454438"/><stop offset="0.42" stop-color="#5c5b4e"/><stop offset="0.50" stop-color="#716f5f"/><stop offset="0.58" stop-color="#8c887c"/><stop offset="0.67" stop-color="#9a988e"/><stop offset="0.75" stop-color="#9b9a95"/><stop offset="0.83" stop-color="#979698"/><stop offset="0.92" stop-color="#8d8d92"/><stop offset="1.00" stop-color="#82828a"/></linearGradient>
<linearGradient id="g71" x1="0" y1="58.5" x2="0" y2="218.5" gradientUnits="userSpaceOnUse"><stop offset="0.00" stop-color="#1c1c18"/><stop offset="0.08" stop-color="#20201a"/><stop offset="0.17" stop-color="#24241d"/><stop offset="0.25" stop-color="#302f26"/><stop offset="0.33" stop-color="#444338"/><stop offset="0.42" stop-color="#5b594d"/><stop offset="0.50" stop-color="#6f6d5d"/><stop offset="0.58" stop-color="#8a867a"/><stop offset="0.67" stop-color="#97958a"/><stop offset="0.75" stop-color="#999792"/><stop offset="0.83" stop-color="#949495"/><stop offset="0.92" stop-color="#8a8a8e"/><stop offset="1.00" stop-color="#7e7e86"/></linearGradient>
<linearGradient id="g72" x1="0" y1="62.0" x2="0" y2="217.2" gradientUnits="userSpaceOnUse"><stop offset="0.00" stop-color="#1c1c18"/><stop offset="0.08" stop-color="#20201b"/><stop offset="0.17" stop-color="#25241d"/><stop offset="0.25" stop-color="#302f26"/><stop offset="0.33" stop-color="#434237"/><stop offset="0.42" stop-color="#5a584d"/><stop offset="0.50" stop-color="#6d6b5c"/><stop offset="0.58" stop-color="#878477"/><stop offset="0.67" stop-color="#959288"/><stop offset="0.75" stop-color="#96958f"/><stop offset="0.83" stop-color="#929292"/><stop offset="0.92" stop-color="#88888c"/><stop offset="1.00" stop-color="#7b7b83"/></linearGradient>
<linearGradient id="g73" x1="0" y1="66.0" x2="0" y2="213.4" gradientUnits="userSpaceOnUse"><stop offset="0.00" stop-color="#1c1c18"/><stop offset="0.08" stop-color="#21201b"/><stop offset="0.17" stop-color="#25251e"/><stop offset="0.25" stop-color="#313027"/><stop offset="0.33" stop-color="#434237"/><stop offset="0.42" stop-color="#59584c"/><stop offset="0.50" stop-color="#6c6a5b"/><stop offset="0.58" stop-color="#858175"/><stop offset="0.67" stop-color="#928f85"/><stop offset="0.75" stop-color="#94938d"/><stop offset="0.83" stop-color="#909091"/><stop offset="0.92" stop-color="#86868b"/><stop offset="1.00" stop-color="#7a7a82"/></linearGradient>
<linearGradient id="g74" x1="0" y1="70.0" x2="0" y2="209.6" gradientUnits="userSpaceOnUse"><stop offset="0.00" stop-color="#1c1c18"/><stop offset="0.08" stop-color="#21211b"/><stop offset="0.17" stop-color="#26251e"/><stop offset="0.25" stop-color="#323127"/><stop offset="0.33" stop-color="#434237"/><stop offset="0.42" stop-color="#58574b"/><stop offset="0.50" stop-color="#6a695a"/><stop offset="0.58" stop-color="#827f73"/><stop offset="0.67" stop-color="#8f8d83"/><stop offset="0.75" stop-color="#92918c"/><stop offset="0.83" stop-color="#8e8e8f"/><stop offset="0.92" stop-color="#85858a"/><stop offset="1.00" stop-color="#797980"/></linearGradient>
<linearGradient id="g75" x1="0" y1="74.0" x2="0" y2="205.7" gradientUnits="userSpaceOnUse"><stop offset="0.00" stop-color="#1d1d19"/><stop offset="0.08" stop-color="#22211c"/><stop offset="0.17" stop-color="#27261f"/><stop offset="0.25" stop-color="#323228"/><stop offset="0.33" stop-color="#434237"/><stop offset="0.42" stop-color="#57564a"/><stop offset="0.50" stop-color="#696759"/><stop offset="0.58" stop-color="#7f7d71"/><stop offset="0.67" stop-color="#8c8a81"/><stop offset="0.75" stop-color="#908f8a"/><stop offset="0.83" stop-color="#8c8c8d"/><stop offset="0.92" stop-color="#848488"/><stop offset="1.00" stop-color="#77777f"/></linearGradient>
<linearGradient id="g76" x1="0" y1="78.0" x2="0" y2="201.9" gradientUnits="userSpaceOnUse"><stop offset="0.00" stop-color="#1d1d19"/><stop offset="0.08" stop-color="#22221c"/><stop offset="0.17" stop-color="#272720"/><stop offset="0.25" stop-color="#333229"/><stop offset="0.33" stop-color="#434337"/><stop offset="0.42" stop-color="#56554a"/><stop offset="0.50" stop-color="#676658"/><stop offset="0.58" stop-color="#7d7a6f"/><stop offset="0.67" stop-color="#89877e"/><stop offset="0.75" stop-color="#8e8d88"/><stop offset="0.83" stop-color="#8a8a8b"/><stop offset="0.92" stop-color="#828287"/><stop offset="1.00" stop-color="#76767d"/></linearGradient>
<linearGradient id="g77" x1="0" y1="84.6" x2="0" y2="197.8" gradientUnits="userSpaceOnUse"><stop offset="0.00" stop-color="#1d1d19"/><stop offset="0.08" stop-color="#22221c"/><stop offset="0.17" stop-color="#282820"/><stop offset="0.25" stop-color="#333329"/><stop offset="0.33" stop-color="#434337"/><stop offset="0.42" stop-color="#555449"/><stop offset="0.50" stop-color="#666457"/><stop offset="0.58" stop-color="#7a786d"/><stop offset="0.67" stop-color="#86857c"/><stop offset="0.75" stop-color="#8b8b87"/><stop offset="0.83" stop-color="#898889"/><stop offset="0.92" stop-color="#818186"/><stop offset="1.00" stop-color="#74747c"/></linearGradient>
<linearGradient id="g78" x1="0" y1="89.0" x2="0" y2="193.4" gradientUnits="userSpaceOnUse"><stop offset="0.00" stop-color="#1d1d19"/><stop offset="0.08" stop-color="#23221d"/><stop offset="0.17" stop-color="#292821"/><stop offset="0.25" stop-color="#34342a"/><stop offset="0.33" stop-color="#434337"/><stop offset="0.42" stop-color="#545348"/><stop offset="0.50" stop-color="#646356"/><stop offset="0.58" stop-color="#77766a"/><stop offset="0.67" stop-color="#83827a"/><stop offset="0.75" stop-color="#898985"/><stop offset="0.83" stop-color="#878788"/><stop offset="0.92" stop-color="#808084"/><stop offset="1.00" stop-color="#73737a"/></linearGradient>
<linearGradient id="g79" x1="0" y1="91.0" x2="0" y2="189.1" gradientUnits="userSpaceOnUse"><stop offset="0.00" stop-color="#1d1d19"/><stop offset="0.08" stop-color="#23231d"/><stop offset="0.17" stop-color="#292921"/><stop offset="0.25" stop-color="#35342a"/><stop offset="0.33" stop-color="#434337"/><stop offset="0.42" stop-color="#545348"/><stop offset="0.50" stop-color="#636256"/><stop offset="0.58" stop-color="#757368"/><stop offset="0.67" stop-color="#807f77"/><stop offset="0.75" stop-color="#878783"/><stop offset="0.83" stop-color="#858586"/><stop offset="0.92" stop-color="#7f7f83"/><stop offset="1.00" stop-color="#727278"/></linearGradient>
<linearGradient id="g80" x1="0" y1="93.0" x2="0" y2="184.7" gradientUnits="userSpaceOnUse"><stop offset="0.00" stop-color="#1d1d19"/><stop offset="0.08" stop-color="#23231d"/><stop offset="0.17" stop-color="#2a2a22"/><stop offset="0.25" stop-color="#35352b"/><stop offset="0.33" stop-color="#434337"/><stop offset="0.42" stop-color="#535247"/><stop offset="0.50" stop-color="#616055"/><stop offset="0.58" stop-color="#727166"/><stop offset="0.67" stop-color="#7d7d75"/><stop offset="0.75" stop-color="#858581"/><stop offset="0.83" stop-color="#838384"/><stop offset="0.92" stop-color="#7d7d82"/><stop offset="1.00" stop-color="#707077"/></linearGradient>
<linearGradient id="g81" x1="0" y1="95.0" x2="0" y2="180.3" gradientUnits="userSpaceOnUse"><stop offset="0.00" stop-color="#1e1e1a"/><stop offset="0.08" stop-color="#24241e"/><stop offset="0.17" stop-color="#2b2b23"/><stop offset="0.25" stop-color="#36362b"/><stop offset="0.33" stop-color="#434337"/><stop offset="0.42" stop-color="#525146"/><stop offset="0.50" stop-color="#605f54"/><stop offset="0.58" stop-color="#6f6e64"/><stop offset="0.67" stop-color="#7a7a73"/><stop offset="0.75" stop-color="#838280"/><stop offset="0.83" stop-color="#818182"/><stop offset="0.92" stop-color="#7c7c80"/><stop offset="1.00" stop-color="#6f6f75"/></linearGradient>
<linearGradient id="g82" x1="0" y1="96.8" x2="0" y2="178.9" gradientUnits="userSpaceOnUse"><stop offset="0.00" stop-color="#1e1e1a"/><stop offset="0.08" stop-color="#24241e"/><stop offset="0.17" stop-color="#2b2b23"/><stop offset="0.25" stop-color="#37362c"/><stop offset="0.33" stop-color="#434337"/><stop offset="0.42" stop-color="#515045"/><stop offset="0.50" stop-color="#5e5e53"/><stop offset="0.58" stop-color="#6d6c62"/><stop offset="0.67" stop-color="#777770"/><stop offset="0.75" stop-color="#81807e"/><stop offset="0.83" stop-color="#7f7f80"/><stop offset="0.92" stop-color="#7b7b7f"/><stop offset="1.00" stop-color="#6e6e74"/></linearGradient>
<linearGradient id="g83" x1="0" y1="97.9" x2="0" y2="178.1" gradientUnits="userSpaceOnUse"><stop offset="0.00" stop-color="#1e1e1a"/><stop offset="0.08" stop-color="#25251e"/><stop offset="0.17" stop-color="#2c2c24"/><stop offset="0.25" stop-color="#37372d"/><stop offset="0.33" stop-color="#434337"/><stop offset="0.42" stop-color="#504f45"/><stop offset="0.50" stop-color="#5d5c52"/><stop offset="0.58" stop-color="#6a6a60"/><stop offset="0.67" stop-color="#74746e"/><stop offset="0.75" stop-color="#7e7e7c"/><stop offset="0.83" stop-color="#7d7d7f"/><stop offset="0.92" stop-color="#7a7a7e"/><stop offset="1.00" stop-color="#6c6c72"/></linearGradient>
<linearGradient id="g84" x1="0" y1="99.1" x2="0" y2="179.1" gradientUnits="userSpaceOnUse"><stop offset="0.00" stop-color="#1e1e1a"/><stop offset="0.08" stop-color="#25251f"/><stop offset="0.17" stop-color="#2c2c24"/><stop offset="0.25" stop-color="#37372d"/><stop offset="0.33" stop-color="#424237"/><stop offset="0.42" stop-color="#4e4e44"/><stop offset="0.50" stop-color="#5b5a50"/><stop offset="0.58" stop-color="#67675d"/><stop offset="0.67" stop-color="#71716b"/><stop offset="0.75" stop-color="#7a7a79"/><stop offset="0.83" stop-color="#7a7a7b"/><stop offset="0.92" stop-color="#76767a"/><stop offset="1.00" stop-color="#69696f"/></linearGradient>
<linearGradient id="g85" x1="0" y1="100.2" x2="0" y2="180.4" gradientUnits="userSpaceOnUse"><stop offset="0.00" stop-color="#1f1f1b"/><stop offset="0.08" stop-color="#25251f"/><stop offset="0.17" stop-color="#2d2d24"/><stop offset="0.25" stop-color="#37372d"/><stop offset="0.33" stop-color="#414136"/><stop offset="0.42" stop-color="#4d4c42"/><stop offset="0.50" stop-color="#58584f"/><stop offset="0.58" stop-color="#64635b"/><stop offset="0.67" stop-color="#6d6d68"/><stop offset="0.75" stop-color="#767675"/><stop offset="0.83" stop-color="#767678"/><stop offset="0.92" stop-color="#727277"/><stop offset="1.00" stop-color="#66666c"/></linearGradient>
<linearGradient id="g86" x1="0" y1="101.4" x2="0" y2="181.7" gradientUnits="userSpaceOnUse"><stop offset="0.00" stop-color="#20201b"/><stop offset="0.08" stop-color="#262620"/><stop offset="0.17" stop-color="#2d2d25"/><stop offset="0.25" stop-color="#36362d"/><stop offset="0.33" stop-color="#404036"/><stop offset="0.42" stop-color="#4b4a41"/><stop offset="0.50" stop-color="#56554d"/><stop offset="0.58" stop-color="#606059"/><stop offset="0.67" stop-color="#696965"/><stop offset="0.75" stop-color="#727271"/><stop offset="0.83" stop-color="#727274"/><stop offset="0.92" stop-color="#6e6e73"/><stop offset="1.00" stop-color="#636369"/></linearGradient>
<linearGradient id="g87" x1="0" y1="102.5" x2="0" y2="183.0" gradientUnits="userSpaceOnUse"><stop offset="0.00" stop-color="#20201c"/><stop offset="0.08" stop-color="#262620"/><stop offset="0.17" stop-color="#2d2d25"/><stop offset="0.25" stop-color="#36362d"/><stop offset="0.33" stop-color="#3f3f35"/><stop offset="0.42" stop-color="#494940"/><stop offset="0.50" stop-color="#53534b"/><stop offset="0.58" stop-color="#5d5d57"/><stop offset="0.67" stop-color="#666663"/><stop offset="0.75" stop-color="#6d6d6d"/><stop offset="0.83" stop-color="#6e6e71"/><stop offset="0.92" stop-color="#6a6a6f"/><stop offset="1.00" stop-color="#606066"/></linearGradient>
<linearGradient id="g88" x1="0" y1="102.6" x2="0" y2="183.7" gradientUnits="userSpaceOnUse"><stop offset="0.00" stop-color="#21211c"/><stop offset="0.08" stop-color="#272721"/><stop offset="0.17" stop-color="#2d2d25"/><stop offset="0.25" stop-color="#35352d"/><stop offset="0.33" stop-color="#3e3e35"/><stop offset="0.42" stop-color="#47473e"/><stop offset="0.50" stop-color="#515049"/><stop offset="0.58" stop-color="#5a5a54"/><stop offset="0.67" stop-color="#626260"/><stop offset="0.75" stop-color="#69696a"/><stop offset="0.83" stop-color="#6a6a6d"/><stop offset="0.92" stop-color="#66666b"/><stop offset="1.00" stop-color="#5d5d63"/></linearGradient>
<linearGradient id="g89" x1="0" y1="102.1" x2="0" y2="184.1" gradientUnits="userSpaceOnUse"><stop offset="0.00" stop-color="#22221d"/><stop offset="0.08" stop-color="#272721"/><stop offset="0.17" stop-color="#2d2d26"/><stop offset="0.25" stop-color="#35352d"/><stop offset="0.33" stop-color="#3d3d34"/><stop offset="0.42" stop-color="#45453d"/><stop offset="0.50" stop-color="#4e4e47"/><stop offset="0.58" stop-color="#575752"/><stop offset="0.67" stop-color="#5e5e5d"/><stop offset="0.75" stop-color="#646466"/><stop offset="0.83" stop-color="#66666a"/><stop offset="0.92" stop-color="#626267"/><stop offset="1.00" stop-color="#59595f"/></linearGradient>
<linearGradient id="g90" x1="0" y1="101.6" x2="0" y2="184.6" gradientUnits="userSpaceOnUse"><stop offset="0.00" stop-color="#22221d"/><stop offset="0.08" stop-color="#282822"/><stop offset="0.17" stop-color="#2d2d26"/><stop offset="0.25" stop-color="#35352c"/><stop offset="0.33" stop-color="#3c3c34"/><stop offset="0.42" stop-color="#44433c"/><stop offset="0.50" stop-color="#4b4b45"/><stop offset="0.58" stop-color="#545350"/><stop offset="0.67" stop-color="#5a5a5a"/><stop offset="0.75" stop-color="#606062"/><stop offset="0.83" stop-color="#626266"/><stop offset="0.92" stop-color="#5e5e64"/><stop offset="1.00" stop-color="#56565c"/></linearGradient>
<linearGradient id="g91" x1="0" y1="101.1" x2="0" y2="185.0" gradientUnits="userSpaceOnUse"><stop offset="0.00" stop-color="#23231e"/><stop offset="0.08" stop-color="#282822"/><stop offset="0.17" stop-color="#2e2e27"/><stop offset="0.25" stop-color="#34342c"/><stop offset="0.33" stop-color="#3b3b33"/><stop offset="0.42" stop-color="#42423b"/><stop offset="0.50" stop-color="#494944"/><stop offset="0.58" stop-color="#50504e"/><stop offset="0.67" stop-color="#575757"/><stop offset="0.75" stop-color="#5c5c5e"/><stop offset="0.83" stop-color="#5e5e63"/><stop offset="0.92" stop-color="#5a5a60"/><stop offset="1.00" stop-color="#535359"/></linearGradient>
<linearGradient id="g92" x1="0" y1="100.6" x2="0" y2="185.5" gradientUnits="userSpaceOnUse"><stop offset="0.00" stop-color="#23231e"/><stop offset="0.08" stop-color="#282823"/><stop offset="0.17" stop-color="#2e2e27"/><stop offset="0.25" stop-color="#34342c"/><stop offset="0.33" stop-color="#3a3a33"/><stop offset="0.42" stop-color="#404039"/><stop offset="0.50" stop-color="#464642"/><stop offset="0.58" stop-color="#4d4d4b"/><stop offset="0.67" stop-color="#535354"/><stop offset="0.75" stop-color="#57575a"/><stop offset="0.83" stop-color="#5a5a5f"/><stop offset="0.92" stop-color="#56565c"/><stop offset="1.00" stop-color="#505056"/></linearGradient>
<linearGradient id="g93" x1="0" y1="100.1" x2="0" y2="185.9" gradientUnits="userSpaceOnUse"><stop offset="0.00" stop-color="#24241f"/><stop offset="0.08" stop-color="#292923"/><stop offset="0.17" stop-color="#2e2e27"/><stop offset="0.25" stop-color="#33332c"/><stop offset="0.33" stop-color="#393932"/><stop offset="0.42" stop-color="#3e3e38"/><stop offset="0.50" stop-color="#444440"/><stop offset="0.58" stop-color="#4a4a49"/><stop offset="0.67" stop-color="#4f4f51"/><stop offset="0.75" stop-color="#535357"/><stop offset="0.83" stop-color="#56565c"/><stop offset="0.92" stop-color="#525258"/><stop offset="1.00" stop-color="#4d4d53"/></linearGradient>
<linearGradient id="g94" x1="0" y1="100.0" x2="0" y2="186.0" gradientUnits="userSpaceOnUse"><stop offset="0.00" stop-color="#24241f"/><stop offset="0.08" stop-color="#292923"/><stop offset="0.17" stop-color="#2e2e27"/><stop offset="0.25" stop-color="#33332c"/><stop offset="0.33" stop-color="#393932"/><stop offset="0.42" stop-color="#3e3e38"/><stop offset="0.50" stop-color="#444440"/><stop offset="0.58" stop-color="#494949"/><stop offset="0.67" stop-color="#4f4f51"/><stop offset="0.75" stop-color="#525256"/><stop offset="0.83" stop-color="#55555b"/><stop offset="0.92" stop-color="#525258"/><stop offset="1.00" stop-color="#4c4c52"/></linearGradient>
<clipPath id="bodyClip"><path d="M41,171.9 C42,169.5 46,166 49,163.9 C50.5,161.5 51,160 51.9,158.8 C55,155.5 57,154 59.2,152.9 C63,150 70,146 80,141.1 C87,137.5 94,132.5 100.4,128.3 C108,122.5 114,117.5 120.9,111.5 C128,105 134,99.5 141.3,93.1 C150,85 158,76.5 165.7,71.2 C175,65 185,59.5 192,56.8 C205,51.5 220,45.5 231.4,42.3 C245,38.3 258,34.3 268.2,29.2 L300,26 L340,27 L362,31.5 L381,33.7 L410,36 L440,30 L500,82 C505,86 515,93 531.4,96.4 C545,99.5 556,101.5 565.4,102.9 C572,99 577,95.5 582.3,92.3 L603.5,77.5 L612,74 L612,202 L603.5,198.2 L582.3,189.7 C576,187.3 570.5,185.3 565.4,183.4 C560,181.5 556,180 552.7,179.1 L540,178 L528.1,179.6 L500,200 L470.9,218.5 C460,219.5 455,219.5 450.4,219.5 C445,219 443,218.5 440,218.5 C420,220 405,221 392.7,222 C380,223 370,224.5 357.7,225.5 C345,226.5 338,228 329.6,229 L300,230 L231.4,225.8 C225,225.5 222,225 216.8,227.2 C210,228 208,228.4 205.1,228.4 C198,228.4 196,228.4 193.4,228.4 C188,228 185,227.5 181.8,227.2 C177,227 174,226.5 170.1,226.1 C165,225 162,223.5 158.4,222.6 C154,221 150,220 146.7,219.1 C142,218 138,217.5 135,216.7 C130,215 127,214.5 123.4,213.2 C118,211.5 115,211 111.7,209.7 C106,207.5 103,206.5 100,206.2 C92,202 85,198.5 81.1,196.7 C75,194 70,191.5 66.5,190.1 C60,187.5 55,185.5 51.9,184.3 C48,182.5 47,181.5 46.1,180.7 C43,178.5 42,177 41.7,175.5 Z"/></clipPath>
<filter id="b1" x="-10%" y="-10%" width="120%" height="120%"><feGaussianBlur stdDeviation="0.8"/></filter>
<filter id="b2" x="-20%" y="-20%" width="140%" height="140%"><feGaussianBlur stdDeviation="2"/></filter>
<filter id="b3" x="-20%" y="-20%" width="140%" height="140%"><feGaussianBlur stdDeviation="3"/></filter>
<filter id="b6" x="-20%" y="-30%" width="140%" height="160%"><feGaussianBlur stdDeviation="6"/></filter>
<filter id="noiseDark" x="0" y="0" width="100%" height="100%"><feTurbulence type="fractalNoise" baseFrequency="0.17 0.24" numOctaves="2" seed="4" result="n"/><feColorMatrix in="n" type="matrix" values="0 0 0 0 0  0 0 0 0 0  0 0 0 0 0  3.2 0 0 0 -1.6"/></filter>
<filter id="noiseLight" x="0" y="0" width="100%" height="100%"><feTurbulence type="fractalNoise" baseFrequency="0.21 0.3" numOctaves="2" seed="9" result="n"/><feColorMatrix in="n" type="matrix" values="0 0 0 0 1  0 0 0 0 1  0 0 0 0 1  0 3.2 0 0 -1.7"/></filter>
<filter id="wob" x="0" y="0" width="100%" height="100%"><feTurbulence type="fractalNoise" baseFrequency="0.045" numOctaves="2" seed="2" result="t"/><feDisplacementMap in="SourceGraphic" in2="t" scale="7" xChannelSelector="R" yChannelSelector="G" result="d"/><feGaussianBlur in="d" stdDeviation="0.45"/></filter>
<filter id="wobS" x="-5%" y="-20%" width="110%" height="140%"><feTurbulence type="fractalNoise" baseFrequency="0.08" numOctaves="1" seed="5" result="t"/><feDisplacementMap in="SourceGraphic" in2="t" scale="2.5" xChannelSelector="R" yChannelSelector="G"/></filter>
<filter id="fringe" x="-5%" y="-5%" width="110%" height="110%"><feTurbulence type="fractalNoise" baseFrequency="0.02 0.35" numOctaves="1" seed="7" result="t"/><feDisplacementMap in="SourceGraphic" in2="t" scale="5" xChannelSelector="R" yChannelSelector="G"/></filter>
<filter id="fringe2" x="-5%" y="-10%" width="110%" height="120%"><feTurbulence type="fractalNoise" baseFrequency="0.3 0.08" numOctaves="1" seed="11" result="t"/><feDisplacementMap in="SourceGraphic" in2="t" scale="4" xChannelSelector="R" yChannelSelector="G"/></filter>
<mask id="mNL" maskUnits="userSpaceOnUse" x="0" y="0" width="685" height="300"><path d="M30.0,171.9 L38.0,171.9 L46.0,168.7 L54.0,162.5 L62.0,157.3 L70.0,154.0 L78.0,150.7 L86.0,147.2 L94.0,143.6 L102.0,139.7 L110.0,134.6 L118.0,129.5 L126.0,123.9 L134.0,118.2 L142.0,112.5 L150.0,106.7 L158.0,101.1 L166.0,95.7 L174.0,92.2 L182.0,88.7 L190.0,85.1 L198.0,82.2 L206.0,79.5 L214.0,76.6 L222.0,74.1 L230.0,72.0 L238.0,70.0 L246.0,67.8 L254.0,65.3 L262.0,62.8 L270.0,60.8 L278.0,60.2 L286.0,59.5 L294.0,58.9 L302.0,58.4 L310.0,58.6 L318.0,58.8 L326.0,59.0 L334.0,59.1 L342.0,59.4 L350.0,60.6 L358.0,61.9 L366.0,62.8 L374.0,63.5 L382.0,64.1 L390.0,64.5 L398.0,64.9 L406.0,65.3 L414.0,66.5 L422.0,68.4 L430.0,70.4 L438.0,72.3 L446.0,75.3 L454.0,78.6 L462.0,82.0 L470.0,85.4 L478.0,89.1 L486.0,92.8 L494.0,96.5 L502.0,101.5 L510.0,105.8 L518.0,107.2 L526.0,108.5 L534.0,110.1 L542.0,111.3 L550.0,112.9 L558.0,114.4 L566.0,115.7 L574.0,115.3 L582.0,114.8 L590.0,114.3 L598.0,113.9 L606.0,113.8 L614.0,113.8 L614.0,194.6 L606.0,194.6 L598.0,194.4 L590.0,193.7 L582.0,193.0 L574.0,192.3 L566.0,191.5 L558.0,189.9 L550.0,188.2 L542.0,186.4 L534.0,187.0 L526.0,189.7 L518.0,196.4 L510.0,203.1 L502.0,210.1 L494.0,216.6 L486.0,222.8 L478.0,228.9 L470.0,234.4 L462.0,234.8 L454.0,235.2 L446.0,235.6 L438.0,236.1 L430.0,237.0 L422.0,237.9 L414.0,238.8 L406.0,239.6 L398.0,240.3 L390.0,241.1 L382.0,242.0 L374.0,243.0 L366.0,244.0 L358.0,245.0 L350.0,246.2 L342.0,247.5 L334.0,248.7 L326.0,249.1 L318.0,249.0 L310.0,248.8 L302.0,248.7 L294.0,248.4 L286.0,248.2 L278.0,247.9 L270.0,247.4 L262.0,246.8 L254.0,246.1 L246.0,245.4 L238.0,244.7 L230.0,244.2 L222.0,244.9 L214.0,245.5 L206.0,246.0 L198.0,245.8 L190.0,245.1 L182.0,243.8 L174.0,242.5 L166.0,240.3 L158.0,236.9 L150.0,233.5 L142.0,230.4 L134.0,227.5 L126.0,224.7 L118.0,221.5 L110.0,218.1 L102.0,214.8 L94.0,210.3 L86.0,205.4 L78.0,200.6 L70.0,196.2 L62.0,192.0 L54.0,187.8 L46.0,182.1 L38.0,171.9 L30.0,171.9Z" fill="#fff" filter="url(#b6)"/></mask>
<clipPath id="headClip"><path d="M90,150 L120,120 L150,95 L190,62 L205,100 L212,150 L196,175 L180,195 L110,200 L95,175 Z"/></clipPath>
<filter id="noiseDark2" x="0" y="0" width="100%" height="100%"><feTurbulence type="fractalNoise" baseFrequency="0.12 0.16" numOctaves="3" seed="21" result="n"/><feColorMatrix in="n" type="matrix" values="0 0 0 0 0  0 0 0 0 0  0 0 0 0 0  3.5 0 0 0 -1.6"/><feGaussianBlur stdDeviation="0.6"/></filter>
<filter id="noiseLight2" x="0" y="0" width="100%" height="100%"><feTurbulence type="fractalNoise" baseFrequency="0.14 0.1" numOctaves="3" seed="33" result="n"/><feColorMatrix in="n" type="matrix" values="0 0 0 0 1  0 0 0 0 1  0 0 0 0 0.95  0 3.5 0 0 -1.7"/><feGaussianBlur stdDeviation="0.6"/></filter>
<pattern id="sclEdge" width="12" height="13" patternUnits="userSpaceOnUse" patternTransform="rotate(-2)">
  <path d="M0,6.5 L6,0 L12,6.5 L6,13 Z" fill="none" stroke="#3a3226" stroke-width="1.4"/>
</pattern>
<pattern id="sclHi" width="12" height="13" patternUnits="userSpaceOnUse" patternTransform="rotate(-2)">
  <ellipse cx="6" cy="5.8" rx="2.6" ry="4.2" fill="#fff"/>
  <ellipse cx="0" cy="-0.7" rx="2.6" ry="4.2" fill="#fff"/><ellipse cx="12" cy="-0.7" rx="2.6" ry="4.2" fill="#fff"/>
  <ellipse cx="0" cy="12.3" rx="2.6" ry="4.2" fill="#fff"/><ellipse cx="12" cy="12.3" rx="2.6" ry="4.2" fill="#fff"/>
</pattern>
<pattern id="sclSpot" width="12" height="13" patternUnits="userSpaceOnUse" patternTransform="rotate(-2)">
  <ellipse cx="6" cy="7.2" rx="3.2" ry="3.8" fill="#17150f"/>
  <ellipse cx="0" cy="0.7" rx="3.2" ry="3.8" fill="#17150f"/><ellipse cx="12" cy="0.7" rx="3.2" ry="3.8" fill="#17150f"/>
  <ellipse cx="0" cy="13.7" rx="3.2" ry="3.8" fill="#17150f"/><ellipse cx="12" cy="13.7" rx="3.2" ry="3.8" fill="#17150f"/>
</pattern>
<pattern id="sclRim" width="12" height="13" patternUnits="userSpaceOnUse" patternTransform="rotate(-2)">
  <path d="M0,6.5 L6,0 L12,6.5 L6,13 Z" fill="none" stroke="#b8a880" stroke-width="1.5"/>
</pattern>
<mask id="mRim" maskUnits="userSpaceOnUse" x="0" y="0" width="685" height="300"><g filter="url(#b6)"><path d="M150.0,114.8 L158.0,109.7 L166.0,104.9 L174.0,101.8 L182.0,98.6 L190.0,95.3 L198.0,92.7 L206.0,90.1 L214.0,87.4 L222.0,85.0 L230.0,83.0 L238.0,81.1 L246.0,79.2 L254.0,76.9 L262.0,74.6 L270.0,72.7 L278.0,72.1 L286.0,71.6 L294.0,71.0 L302.0,70.6 L310.0,70.8 L318.0,71.0 L326.0,71.1 L334.0,71.2 L342.0,71.4 L350.0,72.5 L358.0,73.5 L366.0,74.4 L374.0,74.9 L382.0,75.4 L390.0,75.7 L398.0,76.1 L406.0,76.5 L414.0,77.5 L422.0,79.3 L430.0,81.0 L438.0,82.7 L446.0,85.5 L454.0,88.6 L462.0,91.8 L470.0,94.9 L478.0,98.0 L486.0,101.1 L486.0,148.1 L478.0,148.6 L470.0,148.8 L462.0,147.0 L454.0,145.2 L446.0,143.5 L438.0,142.0 L430.0,141.3 L422.0,140.5 L414.0,139.8 L406.0,139.5 L398.0,139.5 L390.0,139.6 L382.0,139.8 L374.0,139.9 L366.0,139.9 L358.0,139.8 L350.0,139.6 L342.0,139.5 L334.0,139.8 L326.0,139.9 L318.0,139.7 L310.0,139.6 L302.0,139.4 L294.0,139.5 L286.0,139.8 L278.0,140.0 L270.0,140.2 L262.0,141.1 L254.0,142.2 L246.0,143.4 L238.0,144.3 L230.0,145.3 L222.0,146.8 L214.0,148.5 L206.0,150.4 L198.0,151.8 L190.0,153.2 L182.0,154.7 L174.0,156.2 L166.0,157.2 L158.0,158.9 L150.0,160.7Z" fill="#fff"/><path d="M0,0 L185,0 L192,55 L200,90 L210,150 L196,172 L180,192 L0,240 Z" fill="#000"/></g></mask>
<pattern id="sclFine" width="7" height="8" patternUnits="userSpaceOnUse">
  <path d="M0,4 L3.5,0 L7,4 L3.5,8 Z" fill="none" stroke="#2a2820" stroke-width="1"/>
  <ellipse cx="3.5" cy="3.4" rx="1.4" ry="2.2" fill="#d8d4c0" opacity="0.6"/>
</pattern>
<mask id="mFine" maskUnits="userSpaceOnUse" x="0" y="0" width="685" height="300"><path d="M480.0,93.0 L488.0,96.4 L496.0,99.9 L504.0,106.1 L512.0,108.2 L520.0,109.4 L528.0,110.5 L536.0,112.0 L544.0,113.3 L552.0,114.8 L560.0,116.4 L568.0,117.2 L576.0,116.8 L576.0,176.0 L568.0,175.5 L560.0,174.3 L552.0,172.6 L544.0,170.9 L536.0,170.4 L528.0,171.2 L520.0,176.2 L512.0,181.1 L504.0,186.0 L496.0,190.0 L488.0,194.1 L480.0,198.1Z" fill="#fff" filter="url(#b6)"/></mask>
<mask id="mSpot" maskUnits="userSpaceOnUse" x="0" y="0" width="685" height="300"><g filter="url(#b6)"><path d="M150.0,106.7 L158.0,101.1 L166.0,95.7 L174.0,92.2 L182.0,88.7 L190.0,85.1 L198.0,82.2 L206.0,79.5 L214.0,76.6 L222.0,74.1 L230.0,72.0 L238.0,70.0 L246.0,67.8 L254.0,65.3 L262.0,62.8 L270.0,60.8 L278.0,60.2 L286.0,59.5 L294.0,58.9 L302.0,58.4 L310.0,58.6 L318.0,58.8 L326.0,59.0 L334.0,59.1 L342.0,59.4 L350.0,60.6 L358.0,61.9 L366.0,62.8 L374.0,63.5 L382.0,64.1 L390.0,64.5 L398.0,64.9 L406.0,65.3 L414.0,66.5 L422.0,68.4 L430.0,70.4 L438.0,72.3 L446.0,75.3 L454.0,78.6 L462.0,82.0 L470.0,85.4 L478.0,89.1 L486.0,92.8 L494.0,96.5 L494.0,155.3 L486.0,156.4 L478.0,157.5 L470.0,158.3 L462.0,156.8 L454.0,155.2 L446.0,153.7 L438.0,152.4 L430.0,151.9 L422.0,151.3 L414.0,150.8 L406.0,150.6 L398.0,150.7 L390.0,150.9 L382.0,151.2 L374.0,151.3 L366.0,151.5 L358.0,151.5 L350.0,151.5 L342.0,151.5 L334.0,151.9 L326.0,152.1 L318.0,151.9 L310.0,151.7 L302.0,151.5 L294.0,151.6 L286.0,151.8 L278.0,152.0 L270.0,152.1 L262.0,152.8 L254.0,153.8 L246.0,154.7 L238.0,155.5 L230.0,156.3 L222.0,157.7 L214.0,159.3 L206.0,161.0 L198.0,162.3 L190.0,163.4 L182.0,164.6 L174.0,165.8 L166.0,166.4 L158.0,167.5 L150.0,168.8Z" fill="#fff"/><path d="M0,0 L185,0 L192,55 L200,90 L210,150 L196,172 L180,192 L0,240 Z" fill="#000"/></g></mask>
<mask id="mEdge" maskUnits="userSpaceOnUse" x="0" y="0" width="685" height="300"><g filter="url(#b3)"><path d="M150.0,91.9 L158.0,85.2 L166.0,78.7 L174.0,74.7 L182.0,70.5 L190.0,66.4 L198.0,63.1 L206.0,60.0 L214.0,56.9 L222.0,54.2 L230.0,51.8 L238.0,49.5 L246.0,47.1 L254.0,44.2 L262.0,41.3 L270.0,38.9 L278.0,38.2 L286.0,37.4 L294.0,36.7 L302.0,36.2 L310.0,36.4 L318.0,36.6 L326.0,36.8 L334.0,36.9 L342.0,37.4 L350.0,38.9 L358.0,40.4 L366.0,41.6 L374.0,42.4 L382.0,43.2 L390.0,43.8 L398.0,44.4 L406.0,45.0 L414.0,46.4 L422.0,48.6 L430.0,50.9 L438.0,53.1 L446.0,56.5 L454.0,60.3 L462.0,64.1 L470.0,67.9 L478.0,72.8 L486.0,77.6 L494.0,82.4 L502.0,88.8 L510.0,94.5 L518.0,96.7 L526.0,99.0 L534.0,101.1 L542.0,102.5 L550.0,104.0 L558.0,105.6 L566.0,106.9 L574.0,106.2 L582.0,105.7 L590.0,105.1 L590.0,183.6 L582.0,183.0 L574.0,182.4 L566.0,181.9 L558.0,180.3 L550.0,178.6 L542.0,176.8 L534.0,177.2 L526.0,179.3 L518.0,185.0 L510.0,190.6 L502.0,196.2 L494.0,201.3 L486.0,206.2 L478.0,211.1 L470.0,215.3 L462.0,215.2 L454.0,215.2 L446.0,215.1 L438.0,215.2 L430.0,215.7 L422.0,216.2 L414.0,216.8 L406.0,217.3 L398.0,217.9 L390.0,218.5 L382.0,219.3 L374.0,220.1 L366.0,220.8 L358.0,221.6 L350.0,222.6 L342.0,223.5 L334.0,224.5 L326.0,224.9 L318.0,224.7 L310.0,224.6 L302.0,224.4 L294.0,224.2 L286.0,224.1 L278.0,223.9 L270.0,223.6 L262.0,223.3 L254.0,223.0 L246.0,222.7 L238.0,222.4 L230.0,222.2 L222.0,223.1 L214.0,223.9 L206.0,224.8 L198.0,224.9 L190.0,224.7 L182.0,224.0 L174.0,223.3 L166.0,221.8 L158.0,219.6 L150.0,217.3Z" fill="#fff"/><path d="M0,0 L185,0 L192,55 L200,90 L210,150 L196,172 L180,192 L170,240 L0,240 Z" fill="#000"/></g></mask>
<mask id="mHi" maskUnits="userSpaceOnUse" x="0" y="0" width="685" height="300"><path d="M200.0,151.5 L208.0,149.9 L216.0,148.0 L224.0,146.4 L232.0,145.0 L240.0,144.1 L248.0,143.1 L256.0,141.9 L264.0,140.8 L272.0,140.2 L280.0,140.0 L288.0,139.7 L296.0,139.5 L304.0,139.4 L312.0,139.6 L320.0,139.8 L328.0,140.0 L336.0,139.7 L344.0,139.5 L352.0,139.7 L360.0,139.8 L368.0,139.9 L376.0,139.8 L384.0,139.8 L392.0,139.6 L400.0,139.5 L408.0,139.5 L416.0,140.0 L424.0,140.7 L432.0,141.4 L440.0,142.2 L448.0,143.9 L456.0,145.7 L464.0,147.4 L464.0,195.9 L456.0,195.3 L448.0,194.8 L440.0,194.2 L432.0,194.4 L424.0,194.6 L416.0,194.7 L408.0,195.0 L400.0,195.4 L392.0,195.8 L384.0,196.4 L376.0,197.0 L368.0,197.6 L360.0,198.1 L352.0,198.7 L344.0,199.3 L336.0,200.1 L328.0,200.6 L320.0,200.5 L312.0,200.3 L304.0,200.1 L296.0,200.1 L288.0,200.0 L280.0,200.0 L272.0,199.8 L264.0,199.8 L256.0,199.9 L248.0,200.0 L240.0,200.1 L232.0,200.1 L224.0,201.0 L216.0,202.1 L208.0,203.2 L200.0,203.9Z" fill="#fff" filter="url(#b6)"/></mask>
<linearGradient id="tailG" x1="572" y1="0" x2="680" y2="0" gradientUnits="userSpaceOnUse">
  <stop offset="0" stop-color="#2a2824" stop-opacity="0"/><stop offset="0.18" stop-color="#221f1c" stop-opacity="0.85"/><stop offset="0.3" stop-color="#1a1716" stop-opacity="1"/><stop offset="1" stop-color="#110e0e"/>
</linearGradient>
<linearGradient id="d1G" x1="0" y1="40" x2="0" y2="3" gradientUnits="userSpaceOnUse">
  <stop offset="0" stop-color="#131110"/><stop offset="0.5" stop-color="#1b1816"/><stop offset="1" stop-color="#2c2724"/>
</linearGradient>
<linearGradient id="d2G" x1="0" y1="90" x2="0" y2="10" gradientUnits="userSpaceOnUse">
  <stop offset="0" stop-color="#131110"/><stop offset="0.6" stop-color="#1a1715"/><stop offset="1" stop-color="#2e2a26"/>
</linearGradient>
<linearGradient id="anG" x1="470" y1="190" x2="545" y2="235" gradientUnits="userSpaceOnUse">
  <stop offset="0" stop-color="#2a2826"/><stop offset="0.35" stop-color="#161313"/><stop offset="1" stop-color="#0e0b0b"/>
</linearGradient>
<linearGradient id="pelG" x1="232" y1="0" x2="320" y2="0" gradientUnits="userSpaceOnUse">
  <stop offset="0" stop-color="#a4a494"/><stop offset="0.2" stop-color="#8a8a7c"/><stop offset="0.4" stop-color="#4a4a48"/><stop offset="0.7" stop-color="#2c2c2e"/><stop offset="1" stop-color="#2a2a2c"/>
</linearGradient>
<linearGradient id="pecG" x1="215" y1="0" x2="300" y2="0" gradientUnits="userSpaceOnUse">
  <stop offset="0" stop-color="#3a3836"/><stop offset="0.3" stop-color="#5c5640"/><stop offset="0.6" stop-color="#736c50"/><stop offset="0.85" stop-color="#7e785c" stop-opacity="0.85"/><stop offset="1" stop-color="#8e8a78" stop-opacity="0.4"/>
</linearGradient>
</defs>

<!-- first dorsal -->
<path d="M250,40 C262,31 276,24 287,20.4 C295,18.5 300,17.5 301.3,17.4 C310,14 314,12.5 317.7,11.2 C325,8.5 329,7 332,6.1 C339,4 343,3.3 346.3,3.1 L353.4,3.7 L352.4,7.2 L355.5,10.2 L353.4,13.3 L354.5,18.4 L352.4,21.5 L352.4,26.6 L360.6,28.6 L361.6,32.7 L370.8,34.7 L380,33.7 L380,45 L250,50 Z" fill="url(#d1G)" filter="url(#fringe2)"/>
<path d="M292,21 L351,5.5 M298,24 L352,12 M306,26 L352,19 M318,28 L351,25" stroke="#4e4844" stroke-width="1.3" fill="none" opacity="0.5" filter="url(#b1)"/>
<!-- second dorsal -->
<path d="M405,40 C420,33 432,26 440,25.5 C446,23 449,21.5 451.7,20.4 C456,18.5 459,17.5 461.9,16.8 C466,15 468,14.5 470.7,13.9 C475,12.5 478,12 480.9,11.7 C486,10.8 489,10.3 491.1,10.2 L498.4,13.9 L504.2,16.8 L511.5,20.4 L515.9,24.8 L518.8,30.7 L516.6,38 L520.3,42.3 L521,46.7 L518.8,55.5 L518.8,64.2 L515.9,68.6 L515.9,74.5 L511.5,77.4 L502.8,80.3 L501.3,84.7 L508.6,89.1 L520.3,93.4 L520,100 L400,60 Z" fill="url(#d2G)" filter="url(#fringe2)"/>
<path d="M448,40 L456,21 M458,44 L468,17 M468,48 L480,14 M478,53 L492,12 M486,60 L503,17 M492,66 L513,24 M497,71 L518,36 M500,76 L519,52 M502,80 L516,68" stroke="#5e5852" stroke-width="1.3" fill="none" opacity="0.4" filter="url(#b1)"/>
<!-- anal fin -->
<path d="M465,215 L481.1,221.5 C488,225 495,228.5 501.5,231.7 C508,234.5 515,237 522,238.9 C527,238.5 532,237.5 536.3,235.8 C540,233 542.5,230.5 544.5,227.7 C546.5,223.5 548,219.5 548.5,215.4 C548,211 547.3,207 546.5,203.1 L544.5,199 C541.5,196 539,193.5 536.3,190.9 C534,188 532,185.5 530.1,182.7 L528.1,179.6 L500,190 Z" fill="url(#anG)" filter="url(#fringe)"/>
<path d="M500,200 L520,236 M510,195 L536,234 M518,190 L545,222 M525,185 L547,206" stroke="#2e2a28" stroke-width="1.4" fill="none" opacity="0.6" filter="url(#b1)"/>
<!-- pelvic fin -->
<clipPath id="pelClip"><path d="M231.4,225.8 L232.3,232.8 C233,236 234.3,239 235.8,241.5 C238,245.5 240.3,249 242.8,252 L248,257.3 L252.4,253.8 L254.2,249.4 L260.3,252 C264,254 268,256 272.6,258.2 C277,260.5 282,262.5 286.6,264.3 C290,266 294,268 297.1,269.6 C300.5,270.5 304,270.7 307.6,270.4 C311.5,269.5 315,268 318.1,266.1 L320.7,260.8 L319,253.8 L315.5,248.5 L314.6,242.4 L314.6,236.3 L325.1,231.9 L332.1,228.4 L332,224 L231,222 Z"/></clipPath>
<g clip-path="url(#pelClip)">
<path d="M231.4,225.8 L232.3,232.8 C233,236 234.3,239 235.8,241.5 C238,245.5 240.3,249 242.8,252 L248,257.3 L252.4,253.8 L254.2,249.4 L260.3,252 C264,254 268,256 272.6,258.2 C277,260.5 282,262.5 286.6,264.3 C290,266 294,268 297.1,269.6 C300.5,270.5 304,270.7 307.6,270.4 C311.5,269.5 315,268 318.1,266.1 L320.7,260.8 L319,253.8 L315.5,248.5 L314.6,242.4 L314.6,236.3 L325.1,231.9 L332.1,228.4 L332,224 L231,222 Z" fill="url(#pelG)"/>
<path d="M233,228 Q237.5,235.0 238,246 M240,228 Q246.0,240.5 248,257 M252,229 Q260.0,239.5 264,254 M265,229 Q274.5,243.0 280,261 M279,229 Q288.5,246.5 294,268 M293,229 Q302.5,247.5 308,270 M307,229 Q314.5,245.0 318,265 M318,229 Q320.5,239.5 319,254" stroke="#161616" stroke-width="1.5" fill="none" opacity="0.55" filter="url(#b1)"/>
<path d="M236,228 Q241.5,238.0 243,252 M246,229 Q253.0,238.0 256,251 M258,229 Q267.0,241.5 272,258 M272,229 Q281.5,244.5 287,264 M286,229 Q295.5,247.5 301,270 M300,229 Q309.0,246.5 314,268 M313,229 Q318.5,242.5 320,260" stroke="#8a8a88" stroke-width="1.1" fill="none" opacity="0.4" filter="url(#b1)"/>
</g>
<path d="M286,252 L304,263 M296,250 L312,259 M243,232 L262,248" stroke="#dcdcdc" stroke-width="1.6" fill="none" opacity="0.5" filter="url(#b1)"/>
<path d="M245,228 L330,229" stroke="#1a1a1a" stroke-width="3" opacity="0.6" filter="url(#b1)"/>

<!-- body -->
<g clip-path="url(#bodyClip)">
<rect x="38" y="0" width="6.6" height="280" fill="url(#g0)"/>
<rect x="44" y="0" width="6.6" height="280" fill="url(#g1)"/>
<rect x="50" y="0" width="6.6" height="280" fill="url(#g2)"/>
<rect x="56" y="0" width="6.6" height="280" fill="url(#g3)"/>
<rect x="62" y="0" width="6.6" height="280" fill="url(#g4)"/>
<rect x="68" y="0" width="6.6" height="280" fill="url(#g5)"/>
<rect x="74" y="0" width="6.6" height="280" fill="url(#g6)"/>
<rect x="80" y="0" width="6.6" height="280" fill="url(#g7)"/>
<rect x="86" y="0" width="6.6" height="280" fill="url(#g8)"/>
<rect x="92" y="0" width="6.6" height="280" fill="url(#g9)"/>
<rect x="98" y="0" width="6.6" height="280" fill="url(#g10)"/>
<rect x="104" y="0" width="6.6" height="280" fill="url(#g11)"/>
<rect x="110" y="0" width="6.6" height="280" fill="url(#g12)"/>
<rect x="116" y="0" width="6.6" height="280" fill="url(#g13)"/>
<rect x="122" y="0" width="6.6" height="280" fill="url(#g14)"/>
<rect x="128" y="0" width="6.6" height="280" fill="url(#g15)"/>
<rect x="134" y="0" width="6.6" height="280" fill="url(#g16)"/>
<rect x="140" y="0" width="6.6" height="280" fill="url(#g17)"/>
<rect x="146" y="0" width="6.6" height="280" fill="url(#g18)"/>
<rect x="152" y="0" width="6.6" height="280" fill="url(#g19)"/>
<rect x="158" y="0" width="6.6" height="280" fill="url(#g20)"/>
<rect x="164" y="0" width="6.6" height="280" fill="url(#g21)"/>
<rect x="170" y="0" width="6.6" height="280" fill="url(#g22)"/>
<rect x="176" y="0" width="6.6" height="280" fill="url(#g23)"/>
<rect x="182" y="0" width="6.6" height="280" fill="url(#g24)"/>
<rect x="188" y="0" width="6.6" height="280" fill="url(#g25)"/>
<rect x="194" y="0" width="6.6" height="280" fill="url(#g26)"/>
<rect x="200" y="0" width="6.6" height="280" fill="url(#g27)"/>
<rect x="206" y="0" width="6.6" height="280" fill="url(#g28)"/>
<rect x="212" y="0" width="6.6" height="280" fill="url(#g29)"/>
<rect x="218" y="0" width="6.6" height="280" fill="url(#g30)"/>
<rect x="224" y="0" width="6.6" height="280" fill="url(#g31)"/>
<rect x="230" y="0" width="6.6" height="280" fill="url(#g32)"/>
<rect x="236" y="0" width="6.6" height="280" fill="url(#g33)"/>
<rect x="242" y="0" width="6.6" height="280" fill="url(#g34)"/>
<rect x="248" y="0" width="6.6" height="280" fill="url(#g35)"/>
<rect x="254" y="0" width="6.6" height="280" fill="url(#g36)"/>
<rect x="260" y="0" width="6.6" height="280" fill="url(#g37)"/>
<rect x="266" y="0" width="6.6" height="280" fill="url(#g38)"/>
<rect x="272" y="0" width="6.6" height="280" fill="url(#g39)"/>
<rect x="278" y="0" width="6.6" height="280" fill="url(#g40)"/>
<rect x="284" y="0" width="6.6" height="280" fill="url(#g41)"/>
<rect x="290" y="0" width="6.6" height="280" fill="url(#g42)"/>
<rect x="296" y="0" width="6.6" height="280" fill="url(#g43)"/>
<rect x="302" y="0" width="6.6" height="280" fill="url(#g44)"/>
<rect x="308" y="0" width="6.6" height="280" fill="url(#g45)"/>
<rect x="314" y="0" width="6.6" height="280" fill="url(#g46)"/>
<rect x="320" y="0" width="6.6" height="280" fill="url(#g47)"/>
<rect x="326" y="0" width="6.6" height="280" fill="url(#g48)"/>
<rect x="332" y="0" width="6.6" height="280" fill="url(#g49)"/>
<rect x="338" y="0" width="6.6" height="280" fill="url(#g50)"/>
<rect x="344" y="0" width="6.6" height="280" fill="url(#g51)"/>
<rect x="350" y="0" width="6.6" height="280" fill="url(#g52)"/>
<rect x="356" y="0" width="6.6" height="280" fill="url(#g53)"/>
<rect x="362" y="0" width="6.6" height="280" fill="url(#g54)"/>
<rect x="368" y="0" width="6.6" height="280" fill="url(#g55)"/>
<rect x="374" y="0" width="6.6" height="280" fill="url(#g56)"/>
<rect x="380" y="0" width="6.6" height="280" fill="url(#g57)"/>
<rect x="386" y="0" width="6.6" height="280" fill="url(#g58)"/>
<rect x="392" y="0" width="6.6" height="280" fill="url(#g59)"/>
<rect x="398" y="0" width="6.6" height="280" fill="url(#g60)"/>
<rect x="404" y="0" width="6.6" height="280" fill="url(#g61)"/>
<rect x="410" y="0" width="6.6" height="280" fill="url(#g62)"/>
<rect x="416" y="0" width="6.6" height="280" fill="url(#g63)"/>
<rect x="422" y="0" width="6.6" height="280" fill="url(#g64)"/>
<rect x="428" y="0" width="6.6" height="280" fill="url(#g65)"/>
<rect x="434" y="0" width="6.6" height="280" fill="url(#g66)"/>
<rect x="440" y="0" width="6.6" height="280" fill="url(#g67)"/>
<rect x="446" y="0" width="6.6" height="280" fill="url(#g68)"/>
<rect x="452" y="0" width="6.6" height="280" fill="url(#g69)"/>
<rect x="458" y="0" width="6.6" height="280" fill="url(#g70)"/>
<rect x="464" y="0" width="6.6" height="280" fill="url(#g71)"/>
<rect x="470" y="0" width="6.6" height="280" fill="url(#g72)"/>
<rect x="476" y="0" width="6.6" height="280" fill="url(#g73)"/>
<rect x="482" y="0" width="6.6" height="280" fill="url(#g74)"/>
<rect x="488" y="0" width="6.6" height="280" fill="url(#g75)"/>
<rect x="494" y="0" width="6.6" height="280" fill="url(#g76)"/>
<rect x="500" y="0" width="6.6" height="280" fill="url(#g77)"/>
<rect x="506" y="0" width="6.6" height="280" fill="url(#g78)"/>
<rect x="512" y="0" width="6.6" height="280" fill="url(#g79)"/>
<rect x="518" y="0" width="6.6" height="280" fill="url(#g80)"/>
<rect x="524" y="0" width="6.6" height="280" fill="url(#g81)"/>
<rect x="530" y="0" width="6.6" height="280" fill="url(#g82)"/>
<rect x="536" y="0" width="6.6" height="280" fill="url(#g83)"/>
<rect x="542" y="0" width="6.6" height="280" fill="url(#g84)"/>
<rect x="548" y="0" width="6.6" height="280" fill="url(#g85)"/>
<rect x="554" y="0" width="6.6" height="280" fill="url(#g86)"/>
<rect x="560" y="0" width="6.6" height="280" fill="url(#g87)"/>
<rect x="566" y="0" width="6.6" height="280" fill="url(#g88)"/>
<rect x="572" y="0" width="6.6" height="280" fill="url(#g89)"/>
<rect x="578" y="0" width="6.6" height="280" fill="url(#g90)"/>
<rect x="584" y="0" width="6.6" height="280" fill="url(#g91)"/>
<rect x="590" y="0" width="6.6" height="280" fill="url(#g92)"/>
<rect x="596" y="0" width="6.6" height="280" fill="url(#g93)"/>
<rect x="602" y="0" width="6.6" height="280" fill="url(#g94)"/>
  <rect x="30" y="20" width="590" height="220" fill="#000" filter="url(#noiseDark)" opacity="0.2"/>
  <rect x="30" y="20" width="590" height="220" fill="#fff" filter="url(#noiseLight)" opacity="0.16" mask="url(#mNL)"/>
  <g filter="url(#wob)">
  <rect x="140" y="20" width="460" height="215" fill="url(#sclSpot)" mask="url(#mSpot)" opacity="0.42"/>
  <rect x="140" y="20" width="460" height="215" fill="url(#sclEdge)" mask="url(#mEdge)" opacity="0.18"/>
  <rect x="140" y="20" width="460" height="215" fill="url(#sclRim)" mask="url(#mRim)" opacity="0.35"/>
  <rect x="440" y="60" width="160" height="160" fill="url(#sclFine)" mask="url(#mFine)" opacity="0.3"/>
  <rect x="140" y="20" width="460" height="215" fill="url(#sclHi)" mask="url(#mHi)" opacity="0.48"/>
  </g>
  <!-- belly shadow / lower edge -->
  <path d="M40,178 C90,200 130,215 200,229 C260,228 330,230 400,222 C450,219 480,218 540,180" fill="none" stroke="#8c8a94" stroke-width="5" filter="url(#b3)" opacity="0.6"/>
  <!-- head: lilac grey under dark edge -->
  <path d="M92,138 L104,130 L122,116 L140,100 L156,88 L164,96 L152,110 L128,126 L104,140 Z" fill="#8a8290" filter="url(#b2)" opacity="0.5"/>
  <!-- olive cheek -->
  <path d="M88,160 L104,150 L125,141 L150,128 L168,118 L176,128 L162,146 L140,156 L112,166 L95,168 Z" fill="#646838" filter="url(#b3)" opacity="0.55"/>
  <!-- head mottling -->
  <g clip-path="url(#headClip)">
  <rect x="40" y="60" width="180" height="170" fill="#000" filter="url(#noiseDark2)" opacity="0.35"/>
  <rect x="40" y="60" width="180" height="170" fill="#fff" filter="url(#noiseLight2)" opacity="0.3"/>
  </g>
  <!-- olive upper operculum -->
  <path d="M135,110 L160,96 L178,92 L182,110 L170,125 L150,132 L135,128 Z" fill="#646838" filter="url(#b3)" opacity="0.5"/>
  <!-- operculum light mottled -->
  <path d="M162,118 L200,105 L215,150 L200,180 L175,185 L165,160 Z" fill="#9a948a" filter="url(#b6)" opacity="0.35"/>
  <!-- lower head mottled darker -->
  <path d="M112,166 L160,158 L205,165 L208,215 L150,222 L118,212 Z" fill="#9c9896" filter="url(#b6)" opacity="0.45"/>
  <!-- olive upper lip area -->
  <path d="M56,158 L78,154 L100,158 L112,166 L90,171 L66,172 L52,166 Z" fill="#6e6e48" filter="url(#b2)" opacity="0.7"/>
  <!-- silver preopercle / jaw -->
  <path d="M72,174 C86,171 100,170 113,172 C117,180 117,190 113,199 C100,198 88,195 79,190 Z" fill="#bebec2" filter="url(#b1)" opacity="0.95"/>
  <path d="M78,176 C88,174 98,174 106,176 C108,182 106,188 102,192 C94,190 86,187 80,184 Z" fill="#d4d4d8" filter="url(#b2)" opacity="0.6"/>
  <path d="M113,172 C117,180 117,190 113,199" fill="none" stroke="#7e7e7a" stroke-width="1.6" filter="url(#b1)" opacity="0.7"/>
  <!-- lower jaw shading -->
  <path d="M42,175 C50,182 60,187 72,192 C80,196 88,199 96,202" fill="none" stroke="#7a7a7a" stroke-width="3" filter="url(#b1)" opacity="0.6"/>
  <!-- snout dark grey -->
  <path d="M45,167 C51,160 59,154 71,148 L77,155 L72,162 L62,166.5 L51,168.5 Z" fill="#3a3a3a" filter="url(#b1)" opacity="0.85"/>
  <!-- dentary (lower jaw) -->
  <path d="M41.5,172.5 C50,177 62,183 74,189 C84,194 94,199 104,203 L100,207 C88,203 76,198 64,192 C54,187 46,182 41.5,176 Z" fill="#8e8e90" filter="url(#b1)" opacity="0.75"/>
  <!-- dark patches around the eye -->
  <path d="M86,143 L98,138 L102,146 L92,150 Z" fill="#2a2a26" filter="url(#b2)" opacity="0.7"/>
  <!-- dark top head edge band -->
  <path d="M41,171.9 C46,166 52,158 60,152.5 C70,146 80,141 90,135 C100,128.5 110,121 120.9,111.5 C135,99 150,85 165.7,71.6 L171,81 C155,95 141,107 127,119.5 C115,129.5 103,137.5 95,142.5 C83,148 73,152 63.5,158 C56.5,162.5 50,167.5 44,171 Z" fill="#2c2c2e" filter="url(#b2)"/>
  <path d="M60,152 C66,149 72,146 78,144 L92,142 L96,148 L86,150 L74,152 L64,158 Z" fill="#2a2a2a" filter="url(#b2)" opacity="0.8"/>
</g>
<!-- tail (on top, fades in from left) -->
<path d="M560,103.5 C572,99 577,95.5 582.3,92.3 C590,87 597,82 603.5,77.5 C611,72.5 618,69.5 624.7,66.9 C631,64.8 636,64 641.6,63.8 C647,63.9 651,64.2 654.3,64.8 C658,67.5 660.5,70 662.8,73.3 L664.9,79.6 L652.2,86 L667,87 C671,91 673.5,94.5 675.5,98.7 C678,103 679,108 679.7,113.5 C680.5,120 681,127 680.8,134.7 C680.5,142 680.3,149 679.7,155.8 C678.5,162 677.3,168.5 675.5,174.9 C673.5,179.5 671.5,183.5 669.1,187.6 C666,191.5 662.5,195 658.5,198.2 C653,201 647.5,203 641.6,204.5 C636,205 630,205 624.7,204.5 C617,203 610,200.5 603.5,198.2 C596,195.5 589,192.5 582.3,189.7 C576,187.3 570.5,185.3 560,183 Z" fill="url(#tailG)" filter="url(#fringe)"/>
<path d="M610,86 L650,70 M612,96 L664,84 M614,106 L672,99 M615,116 L677,114 M616,126 L679,129 M616,136 L679,144 M615,146 L678,159 M613,156 L674,174 M610,166 L666,190 M606,176 L650,200" stroke="#2c2826" stroke-width="1.6" fill="none" opacity="0.6" filter="url(#b1)"/>
<path d="M630,68 C640,65 648,65 654,66 C658,68 661,71 662.5,74" stroke="#5a5450" stroke-width="2" fill="none" opacity="0.6" filter="url(#b1)"/>

<!-- head outline dark edge -->
<path d="M41,171.9 C42,169.5 46,166 49,163.9 C50.5,161.5 51,160 51.9,158.8 C55,155.5 57,154 59.2,152.9 C63,150 70,146 80,141.1 C87,137.5 94,132.5 100.4,128.3 C108,122.5 114,117.5 120.9,111.5 C128,105 134,99.5 141.3,93.1" fill="none" stroke="#1e1e20" stroke-width="2.2"/>
<!-- mouth -->
<path d="M43.5,168.2 C50,168.8 56,170.2 62,172 C70,174 78,173 88,171.3 L88.5,173.3 C78,175.3 70,176.4 62,175 C55,173.6 49,171.8 42.8,170.8 Z" fill="#1c1c1a"/>
<path d="M45,169.6 C50,170.2 55,171.2 60,172.6" fill="none" stroke="#cfcfc6" stroke-width="0.9" opacity="0.8"/>
<!-- maxilla -->
<path d="M48,164.5 C55,166.5 62,171 68,177 C73,182.5 78,188 84,193.5 L80,196.5 C74,191 68,185 62,179.5 C57,175 52,171.5 46,169 Z" fill="#767250" opacity="0.9" filter="url(#b1)"/>
<path d="M50,166 C57,169 63,174 69,180 C73,184.5 77,189 81,193" fill="none" stroke="#c0bc98" stroke-width="0.9" opacity="0.5"/>
<path d="M46,169.5 C53,173 60,178 66,184 C71,189 75,193 79,196.5" fill="none" stroke="#2a2a26" stroke-width="1.1" opacity="0.6"/>
<!-- preopercle & opercle edges -->
<path d="M153.4,122.5 C158,132 160,145 160.5,157.2 C161.5,163 162.5,166 163.6,169.5 C167,174 170,177 173.8,179.7" fill="none" stroke="#2e2e28" stroke-width="2.2" opacity="0.75" filter="url(#b1)"/>
<path d="M156,124 C161,134 163,146 163.5,157 C164.5,163 166,167 168,170" fill="none" stroke="#c8c4b8" stroke-width="1.5" opacity="0.45" filter="url(#b1)"/>
<path d="M204.4,151.1 C201,157 198.5,162 196.3,167.4 C193,173 190,178.5 186.1,183.8 C183,186.5 180.5,188.5 177.9,189.9" fill="none" stroke="#5a5a56" stroke-width="1.3" opacity="0.7"/>
<!-- pectoral fin -->
<path d="M216,154 C225,151.5 233,150.5 240,150.6 C248,149.2 256,148.6 263,148.6 C270,148.7 276,149.3 282,150.5 C288,152 292,154 295,157 C298,162 299,170 298.4,177 C297,183 294,187 289,189.5 C282,191.8 275,192.6 268,192.7 C260,192.6 253,192.2 247,191.3 C240,190 235,188 231,186 C226,177 221,166 216,154 Z" fill="url(#pecG)"/>
<path d="M228.0,165.2 Q234.3,162.4 240.0,151.0 M230.0,165.0 Q237.9,162.3 248.0,150.0 M231.8,164.8 Q241.2,162.0 255.0,149.0 M233.5,164.8 Q244.5,162.1 262.0,149.0 M235.5,164.8 Q248.2,162.2 270.0,149.0 M237.2,165.0 Q251.6,162.8 277.0,150.0 M238.8,165.2 Q254.4,163.4 283.0,151.0 M240.0,165.8 Q256.8,164.4 288.0,153.0 M241.0,166.2 Q258.6,165.4 292.0,155.0 M241.8,167.2 Q260.0,167.5 295.0,159.0 M242.2,168.2 Q260.8,169.5 297.0,163.0 M242.5,169.5 Q261.1,172.0 298.0,168.0 M242.5,170.5 Q260.9,174.0 298.0,172.0 M242.2,171.8 Q260.2,176.5 297.0,177.0 M241.8,172.8 Q259.0,178.5 295.0,181.0 M241.0,173.8 Q257.4,180.4 292.0,185.0 M240.0,174.5 Q255.2,181.9 288.0,188.0 M238.5,175.0 Q252.0,182.8 282.0,190.0 M237.0,175.2 Q248.9,183.3 276.0,191.0 M235.2,175.5 Q245.2,183.7 269.0,192.0 M233.5,175.5 Q241.5,183.6 262.0,192.0 M231.8,175.5 Q237.8,183.4 255.0,192.0 M230.0,175.2 Q234.0,182.8 248.0,191.0" stroke="#4a4430" stroke-width="0.9" fill="none" opacity="0.55"/>
<path d="M228.0,165.2 Q234.3,162.4 240.0,151.0 M231.8,164.8 Q241.2,162.0 255.0,149.0 M235.5,164.8 Q248.2,162.2 270.0,149.0 M238.8,165.2 Q254.4,163.4 283.0,151.0 M241.0,166.2 Q258.6,165.4 292.0,155.0 M242.2,168.2 Q260.8,169.5 297.0,163.0 M242.5,170.5 Q260.9,174.0 298.0,172.0 M241.8,172.8 Q259.0,178.5 295.0,181.0 M240.0,174.5 Q255.2,181.9 288.0,188.0 M237.0,175.2 Q248.9,183.3 276.0,191.0 M233.5,175.5 Q241.5,183.6 262.0,192.0 M230.0,175.2 Q234.0,182.8 248.0,191.0" stroke="#a09a7c" stroke-width="0.6" fill="none" opacity="0.35" transform="translate(0.9,0.6)"/>
<path d="M216,154 C222,152.5 230,151.5 238,151.3 C242,157 242,166 238,176 C236,181 234,184 231,186 C226,176 221,165 216,154 Z" fill="#343230" filter="url(#b2)"/>
<!-- eye -->
<circle cx="82.4" cy="152" r="9" fill="#26261c" filter="url(#b1)"/>
<circle cx="82.4" cy="152" r="7.7" fill="#7c7850"/>
<circle cx="82.4" cy="152" r="6.6" fill="none" stroke="#b2ac7c" stroke-width="1.6" opacity="0.85"/>
<ellipse cx="80.6" cy="152.8" rx="4.4" ry="5.4" fill="#0c0c0a"/>
<circle cx="84.6" cy="147.6" r="1.1" fill="#e4e4dc"/>

</g>
<text class="serif" x="0.6" y="314.7" font-size="31.5">A</text>
<text class="serif" x="6.3" y="920.8" font-size="31.5">B</text>
<g clip-path="url(#plotclip)">
<rect x="143.55" y="414" width="492.45" height="414.40" fill="#d4d4d5" stroke="#000" stroke-width="1.1"/>
<path d="M147.49 829.30V380.00M151.44 829.30V380.00M155.38 829.30V800.00M159.32 829.30V810.00M163.26 829.30V811.00M167.21 829.30V811.00M171.15 829.30V810.00M175.09 829.30V807.20M179.03 829.30V803.70M182.98 829.30V799.20M186.92 829.30V794.00M190.86 829.30V787.00M194.80 829.30V779.40M198.75 829.30V770.40M202.69 829.30V761.10M206.63 829.30V752.00M210.57 829.30V744.20M214.52 829.30V737.00M218.46 829.30V731.70M222.40 829.30V727.10M226.34 829.30V724.10M230.29 829.30V721.80M234.23 829.30V720.30M238.17 829.30V716.10M242.11 829.30V710.30M246.06 829.30V702.50M250.00 829.30V691.60M253.94 829.30V677.20M257.88 829.30V660.20M261.82 829.30V640.20M265.77 829.30V621.57M269.71 829.30V599.30M273.65 829.30V570.37M277.60 829.30V540.80M281.54 829.30V519.57M285.48 829.30V498.85M289.42 829.30V483.34M293.37 829.30V470.23M297.31 829.30V464.80M301.25 829.30V464.80M305.19 829.30V469.28M309.13 829.30V478.75M313.08 829.30V492.66M317.02 829.30V509.73M320.96 829.30V530.05M324.90 829.30V561.44M328.85 829.30V593.04M332.79 829.30V619.74M336.73 829.30V643.93M340.68 829.30V667.53M344.62 829.30V694.01M348.56 829.30V715.16M352.50 829.30V733.08M356.44 829.30V748.69M360.39 829.30V761.85M364.33 829.30V772.95M368.27 829.30V782.66M372.22 829.30V790.85M376.16 829.30V798.24M380.10 829.30V804.95M384.04 829.30V810.62M387.99 829.30V815.00M391.93 829.30V818.44M395.87 829.30V820.82M399.81 829.30V822.54M403.75 829.30V823.74M407.70 829.30V824.64M411.64 829.30V825.29M415.58 829.30V825.81M419.52 829.30V826.17M423.47 829.30V826.38M427.41 829.30V826.56M431.35 829.30V826.70M435.30 829.30V826.80M439.24 829.30V826.88M443.18 829.30V826.94M447.12 829.30V826.98M451.06 829.30V827.02M455.01 829.30V827.05M458.95 829.30V827.09M462.89 829.30V827.14M466.83 829.30V827.19M470.78 829.30V827.25M474.72 829.30V827.31M478.66 829.30V827.37M482.61 829.30V827.43M486.55 829.30V827.50M490.49 829.30V827.56M494.43 829.30V827.62M498.38 829.30V827.68M502.32 829.30V827.73M506.26 829.30V827.79M510.20 829.30V827.84M514.14 829.30V827.90M518.09 829.30V827.95M522.03 829.30V828.00M525.97 829.30V828.05M529.91 829.30V828.10" stroke="#74b6de" stroke-width="2.05" stroke-linecap="butt" fill="none"/>
<path d="M223.35 844.40V414.20M303.14 844.40V414.20M382.94 844.40V414.20M462.73 844.40V414.20" stroke="#3e3b3b" stroke-width="1.6" stroke-dasharray="3.5 4.6" stroke-linecap="round" fill="none"/>
<polyline points="147.49,828.40 151.44,828.40 155.38,828.40 159.32,828.40 163.26,828.24 167.21,827.10 171.15,825.33 175.09,821.97 179.03,817.33 182.98,810.69 186.92,801.91 190.86,790.32 194.80,777.41 198.75,764.10 202.69,750.98 206.63,740.30 210.57,729.46 214.52,723.38 218.46,719.90 222.40,718.62 226.34,719.45 230.29,720.86 234.23,721.90 238.17,721.90 242.11,719.22 246.06,712.40 250.00,701.27 253.94,687.11 257.88,669.59 261.82,646.70 265.77,621.07 269.71,598.80 273.65,569.87 277.60,540.30 281.54,519.07 285.48,498.35 289.42,482.84 293.37,469.73 297.31,464.30 301.25,464.30 305.19,468.78 309.13,478.25 313.08,492.16 317.02,509.23 320.96,529.55 324.90,560.94 328.85,592.54 332.79,619.24 336.73,643.43 340.68,667.03 344.62,693.51 348.56,714.66 352.50,732.58 356.44,748.19 360.39,761.35 364.33,772.45 368.27,782.46 372.22,790.95 376.16,798.64 380.10,805.65 384.04,811.62 387.99,816.30 391.93,819.94 395.87,822.32 399.81,824.04 403.75,825.24 407.70,826.14 411.64,826.79 415.58,827.31 419.52,827.67 423.47,827.88 427.41,828.06 431.35,828.20 435.30,828.30 439.24,828.38 443.18,828.40 447.12,828.40 451.06,828.40 455.01,828.40 458.95,828.40 462.89,828.40 466.83,828.40 470.78,828.40 474.72,828.40 478.66,828.40 482.61,828.40 486.55,828.40 490.49,828.40 494.43,828.40 498.38,828.40 502.32,828.40 506.26,828.40 510.20,828.40 514.14,828.40 518.09,828.40 522.03,828.40 525.97,828.40 529.91,828.40 533.86,828.40 537.80,828.40 541.74,828.40 545.68,828.40 549.63,828.40 553.57,828.40 557.51,828.40 561.45,828.40 565.40,828.40 569.34,828.40 573.28,828.40 577.23,828.40 581.17,828.40 585.11,828.40 589.05,828.40 593.00,828.40 596.94,828.40 600.88,828.40 604.82,828.40 608.76,828.40 612.71,828.40 616.65,828.40 620.59,828.40 624.54,828.40 628.48,828.40 632.42,828.40 636.36,828.40 640.31,828.40" fill="none" stroke="#e6dc4a" stroke-width="2.8" stroke-linejoin="round"/>
<polyline points="147.49,828.60 151.44,828.60 155.38,828.60 159.32,828.60 163.26,828.24 167.21,827.10 171.15,825.33 175.09,821.97 179.03,817.33 182.98,810.69 186.92,801.91 190.86,790.32 194.80,777.41 198.75,764.10 202.69,750.98 206.63,740.30 210.57,729.46 214.52,721.78 218.46,718.30 222.40,717.02 226.34,717.85 230.29,719.26 234.23,720.30 238.17,720.30 242.11,717.62 246.06,710.80 250.00,701.27 253.94,687.11 257.88,669.59 261.82,646.70 265.77,621.07 269.71,598.80 273.65,569.87 277.60,540.30 281.54,519.07 285.48,498.35 289.42,482.84 293.37,469.73 297.31,464.30 301.25,464.30 305.19,468.78 309.13,478.25 313.08,492.16 317.02,509.23 320.96,529.55 324.90,560.94 328.85,592.54 332.79,619.24 336.73,643.43 340.68,667.03 344.62,693.51 348.56,714.66 352.50,732.58 356.44,748.19 360.39,761.35 364.33,772.45 368.27,782.16 372.22,790.35 376.16,797.74 380.10,804.45 384.04,810.12 387.99,814.50 391.93,817.94 395.87,820.32 399.81,822.04 403.75,823.24 407.70,824.14 411.64,824.79 415.58,825.31 419.52,825.67 423.47,825.88 427.41,826.06 431.35,826.20 435.30,826.30 439.24,826.38 443.18,826.44 447.12,826.48 451.06,826.52 455.01,826.55 458.95,826.59 462.89,826.64 466.83,826.69 470.78,826.75 474.72,826.81 478.66,826.87 482.61,826.93 486.55,827.00 490.49,827.06 494.43,827.12 498.38,827.18 502.32,827.23 506.26,827.29 510.20,827.34 514.14,827.40 518.09,827.45 522.03,827.50 525.97,827.55 529.91,827.60 533.86,827.64 537.80,827.68 541.74,827.72 545.68,827.75 549.63,827.78 553.57,827.81 557.51,827.84 561.45,827.87 565.40,827.89 569.34,827.92 573.28,827.94 577.23,827.97 581.17,827.99 585.11,828.02 589.05,828.04 593.00,828.06 596.94,828.08 600.88,828.10 604.82,828.13 608.76,828.15 612.71,828.17 616.65,828.19 620.59,828.21 624.54,828.23 628.48,828.25 632.42,828.27 636.36,828.28 640.31,828.30" fill="none" stroke="#000" stroke-width="3.4" stroke-linejoin="round" stroke-linecap="round"/>
<polyline points="151.50,380.00 151.60,640.00 153.00,700.00 153.90,740.00 154.70,774.60 155.60,800.60 159.00,810.10 163.40,812.70 170.30,813.20 176.40,814.00 180.00,815.30 182.70,815.80 188.80,821.80 193.30,827.10 196.40,828.20 223.30,828.20" fill="none" stroke="#d55e00" stroke-width="3.1" stroke-linejoin="round"/>
</g>
<rect x="124.4" y="414.2" width="510.80" height="430.20" fill="none" stroke="#222" stroke-width="1.3"/>
<path d="M143.55 844.40V854.40M222.40 844.40V854.40M301.25 844.40V854.40M380.10 844.40V854.40M458.95 844.40V854.40M537.80 844.40V854.40M616.65 844.40V854.40M124.40 828.40H114.80M124.40 754.25H114.80M124.40 680.10H114.80M124.40 605.95H114.80M124.40 531.80H114.80M124.40 457.65H114.80" stroke="#222" stroke-width="1.3" fill="none"/>
<text x="143.55" y="879.6" text-anchor="middle" font-size="18.65">0</text>
<text x="222.40" y="879.6" text-anchor="middle" font-size="18.65">20</text>
<text x="301.25" y="879.6" text-anchor="middle" font-size="18.65">40</text>
<text x="380.10" y="879.6" text-anchor="middle" font-size="18.65">60</text>
<text x="458.95" y="879.6" text-anchor="middle" font-size="18.65">80</text>
<text x="537.80" y="879.6" text-anchor="middle" font-size="18.65">100</text>
<text x="616.65" y="879.6" text-anchor="middle" font-size="18.65">120</text>
<text transform="translate(103.2 828.40) rotate(-90)" text-anchor="middle" font-size="18.65">0.0e+00</text>
<text transform="translate(103.2 680.10) rotate(-90)" text-anchor="middle" font-size="18.65">1.0e+07</text>
<text transform="translate(103.2 531.80) rotate(-90)" text-anchor="middle" font-size="18.65">2.0e+07</text>
<text x="379.85" y="918.6" text-anchor="middle" font-size="18.65">Coverage</text>
<text transform="translate(64.7 629.3) rotate(-90)" text-anchor="middle" font-size="18.65">Frequency</text>
<text x="379.85" y="326.9" text-anchor="middle" font-size="18.82" font-weight="bold">GenomeScope Profile</text>
<text x="283.0" y="359.9" font-size="13.5" font-weight="bold">len:576,744,607bp uniq:91.6%</text>
<text x="316.0" y="376.3" font-size="13.5" font-weight="bold">aa:99.5% ab:0.461%</text>
<text x="250.8" y="392.9" font-size="13.5" font-weight="bold" xml:space="preserve">kcov:20.2 err:0.103%  dup:0.523  k:21 p:2</text>
<rect x="436.5" y="430.1" width="184.20" height="116.10" fill="#fff" stroke="#222" stroke-width="1.3"/>
<path d="M451.5 449.6H479" stroke="#74b6de" stroke-width="3.0" stroke-linecap="round" fill="none"/>
<text x="493.0" y="454.70" font-size="15.6">observed</text>
<path d="M451.5 469.0H479" stroke="#000" stroke-width="3.4" stroke-linecap="round" fill="none"/>
<text x="493.0" y="474.10" font-size="15.6">full model</text>
<path d="M451.5 488.4H479" stroke="#e2da50" stroke-width="3.0" stroke-linecap="round" fill="none"/>
<text x="493.0" y="493.50" font-size="15.6">unique sequence</text>
<path d="M451.5 507.9H479" stroke="#d55e00" stroke-width="3.0" stroke-linecap="round" fill="none"/>
<text x="493.0" y="513.00" font-size="15.6">errors</text>
<path d="M451.5 527.2H479" stroke="#000" stroke-width="2.0" stroke-linecap="round" stroke-dasharray="7.3 6.8" fill="none"/>
<text x="493.0" y="532.30" font-size="15.6">kmer-peaks</text>
</svg>
</body></html>
